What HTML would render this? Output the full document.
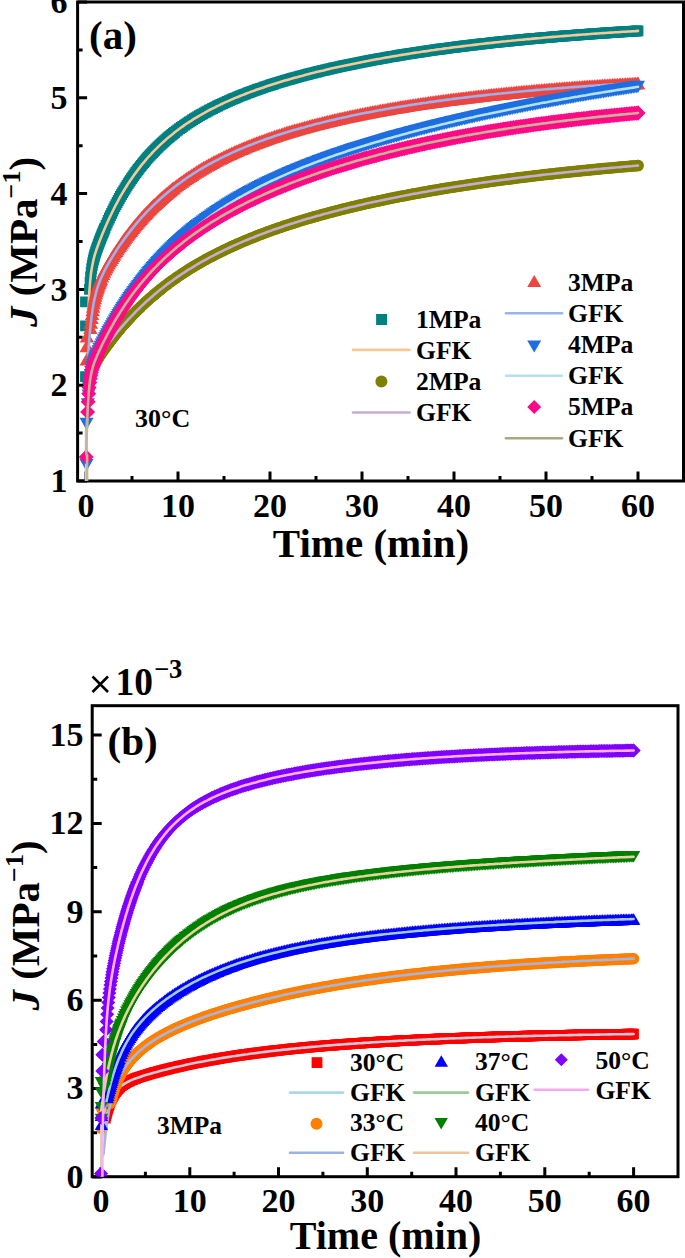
<!DOCTYPE html><html><head><meta charset="utf-8"><style>html,body{margin:0;padding:0;background:#fff;width:685px;height:1258px;overflow:hidden}svg{display:block}text{font-family:"Liberation Serif",serif;font-weight:bold}</style></head><body>
<svg width="685" height="1258" viewBox="0 0 685 1258">
<rect width="685" height="1258" fill="#fff"/>
<defs><clipPath id="ca"><rect x="77.6" y="2" width="605.9" height="479"/></clipPath><clipPath id="cb"><rect x="92.2" y="705.7" width="585.8" height="471"/></clipPath>
<marker id="a0" markerUnits="userSpaceOnUse" overflow="visible" markerWidth="1" markerHeight="1" orient="0"><path fill="#008080" d="M-5.4 -5.4h10.8v10.8h-10.8z"/></marker>
<marker id="a1" markerUnits="userSpaceOnUse" overflow="visible" markerWidth="1" markerHeight="1" orient="0"><path fill="#7f7f00" d="M-5.75 0a5.75 5.75 0 1 0 11.5 0a5.75 5.75 0 1 0 -11.5 0z"/></marker>
<marker id="a2" markerUnits="userSpaceOnUse" overflow="visible" markerWidth="1" markerHeight="1" orient="0"><path fill="#ec4640" d="M0 -6.3L7.2 6.3L-7.2 6.3z"/></marker>
<marker id="a3" markerUnits="userSpaceOnUse" overflow="visible" markerWidth="1" markerHeight="1" orient="0"><path fill="#1e6ee0" d="M0 6.1L7 -6.1L-7 -6.1z"/></marker>
<marker id="a4" markerUnits="userSpaceOnUse" overflow="visible" markerWidth="1" markerHeight="1" orient="0"><path fill="#ff0a86" d="M0 -7.5L7.5 0L0 7.5L-7.5 0z"/></marker>
<marker id="b0" markerUnits="userSpaceOnUse" overflow="visible" markerWidth="1" markerHeight="1" orient="0"><path fill="#ff0000" d="M-5.3 -5.3h10.6v10.6h-10.6z"/></marker>
<marker id="b1" markerUnits="userSpaceOnUse" overflow="visible" markerWidth="1" markerHeight="1" orient="0"><path fill="#ff8000" d="M-5.75 0a5.75 5.75 0 1 0 11.5 0a5.75 5.75 0 1 0 -11.5 0z"/></marker>
<marker id="b2" markerUnits="userSpaceOnUse" overflow="visible" markerWidth="1" markerHeight="1" orient="0"><path fill="#0000ff" d="M0 -5.8L6.7 5.8L-6.7 5.8z"/></marker>
<marker id="b3" markerUnits="userSpaceOnUse" overflow="visible" markerWidth="1" markerHeight="1" orient="0"><path fill="#007f00" d="M0 5.8L6.7 -5.8L-6.7 -5.8z"/></marker>
<marker id="b4" markerUnits="userSpaceOnUse" overflow="visible" markerWidth="1" markerHeight="1" orient="0"><path fill="#8000ff" d="M0 -7L7 0L0 7L-7 0z"/></marker>
</defs>
<rect x="77.6" y="2" width="605.9" height="479" fill="none" stroke="#000" stroke-width="3"/>
<path fill="none" stroke="#000" stroke-width="3" d="M77.6 481h9.5M77.6 385.2h9.5M77.6 289.4h9.5M77.6 193.6h9.5M77.6 97.8h9.5M77.6 2h9.5M77.6 433.1h5M77.6 337.3h5M77.6 241.5h5M77.6 145.7h5M77.6 49.9h5M86 481v-9.5M178 481v-9.5M270 481v-9.5M362 481v-9.5M454 481v-9.5M546 481v-9.5M638 481v-9.5M132 481v-5M224 481v-5M316 481v-5M408 481v-5M500 481v-5M592 481v-5"/>
<rect x="92.2" y="705.7" width="585.8" height="471" fill="none" stroke="#000" stroke-width="3"/>
<path fill="none" stroke="#000" stroke-width="3" d="M92.2 1177h9.5M92.2 1088.6h9.5M92.2 1000.2h9.5M92.2 911.8h9.5M92.2 823.4h9.5M92.2 735h9.5M92.2 1132.8h5M92.2 1044.4h5M92.2 956h5M92.2 867.6h5M92.2 779.2h5M101 1176.7v-9.5M189.8 1176.7v-9.5M278.5 1176.7v-9.5M367.3 1176.7v-9.5M456 1176.7v-9.5M544.8 1176.7v-9.5M633.6 1176.7v-9.5M145.4 1176.7v-5M234.1 1176.7v-5M322.9 1176.7v-5M411.7 1176.7v-5M500.4 1176.7v-5M589.2 1176.7v-5"/>
<g clip-path="url(#ca)">
<polyline fill="none" stroke="none" marker-start="url(#a0)" marker-mid="url(#a0)" marker-end="url(#a0)" points="85.5,376.6 85.5,325.8 85.5,301.9 89.5,289.4 90.1,282.4 90.6,276.8 91.2,272.3 91.7,268.6 92.3,265.4 92.8,262.6 93.4,260.2 93.9,258 94.5,256 95,254.1 95.6,252.3 96.1,250.6 96.7,249 97.3,247.4 97.8,245.9 98.4,244.4 98.9,242.9 99.5,241.4 100,240 100.6,238.6 101.1,237.2 101.7,235.8 102.2,234.4 102.8,233.1 103.3,231.8 103.9,230.4 104.4,229.1 105,227.9 106.1,225.3 107.2,222.8 108.3,220.4 109.4,218 110.5,215.6 111.6,213.3 112.7,211.1 113.8,208.9 114.9,206.7 116,204.6 117.1,202.5 118.2,200.5 119.3,198.5 120.4,196.5 121.5,194.6 122.6,192.7 123.7,190.8 124.9,189 126,187.2 127.1,185.4 128.2,183.7 129.3,182 130.4,180.4 131.5,178.7 132.6,177.1 133.7,175.6 134.8,174 135.9,172.5 137,171 138.1,169.5 139.2,168.1 140.3,166.7 141.4,165.3 142.5,163.9 143.6,162.6 144.7,161.3 145.8,160 146.9,158.7 148,157.4 149.1,156.2 150.2,155 151.3,153.8 152.5,152.6 153.6,151.4 154.7,150.3 155.8,149.2 156.9,148.1 158,147 159.1,145.9 160.2,144.9 161.3,143.8 162.4,142.8 163.5,141.8 164.6,140.8 165.7,139.8 166.8,138.9 167.9,137.9 169,137 170.1,136.1 171.2,135.1 172.3,134.3 173.4,133.4 174.5,132.5 176.2,131.2 177.8,130 179.5,128.7 181.2,127.5 182.8,126.3 184.5,125.2 186.1,124.1 187.8,122.9 189.4,121.8 191.1,120.8 192.7,119.7 194.4,118.7 196.1,117.7 197.7,116.7 199.4,115.7 201,114.7 202.7,113.8 204.3,112.9 206,112 207.7,111.1 209.3,110.2 211,109.3 212.6,108.5 214.3,107.6 215.9,106.8 217.6,106 219.2,105.2 220.9,104.4 222.6,103.6 224.2,102.8 225.9,102.1 227.5,101.3 229.2,100.6 230.8,99.9 232.5,99.2 234.1,98.5 235.8,97.8 237.5,97.1 239.1,96.4 240.8,95.7 242.4,95.1 244.1,94.4 245.7,93.8 247.4,93.1 249.1,92.5 250.7,91.9 252.4,91.3 254,90.7 255.7,90.1 257.3,89.5 259,88.9 260.6,88.3 262.3,87.8 264,87.2 265.6,86.7 267.3,86.1 268.9,85.6 270.6,85 272.2,84.5 273.9,84 275.5,83.4 277.2,82.9 278.9,82.4 280.5,81.9 282.2,81.4 283.8,80.9 285.5,80.4 287.1,79.9 288.8,79.5 290.5,79 292.1,78.5 293.8,78 295.4,77.6 297.1,77.1 298.7,76.7 300.4,76.2 302,75.8 303.7,75.3 305.4,74.9 307,74.5 308.7,74 310.3,73.6 312,73.2 313.6,72.8 315.3,72.4 316.9,72 318.6,71.5 320.3,71.1 321.9,70.7 323.6,70.3 325.2,70 326.9,69.6 328.5,69.2 330.2,68.8 331.9,68.4 333.5,68 335.2,67.7 336.8,67.3 338.5,66.9 340.1,66.6 341.8,66.2 343.4,65.9 345.1,65.5 346.8,65.1 348.4,64.8 350.1,64.5 351.7,64.1 353.4,63.8 355,63.4 356.7,63.1 358.3,62.8 360,62.4 361.7,62.1 363.3,61.8 365,61.5 366.6,61.1 368.3,60.8 369.9,60.5 371.6,60.2 373.3,59.9 374.9,59.6 376.6,59.3 378.2,59 379.9,58.7 381.5,58.4 383.2,58.1 384.8,57.8 386.5,57.5 388.2,57.2 389.8,56.9 391.5,56.6 393.1,56.4 394.8,56.1 396.4,55.8 398.1,55.5 399.7,55.2 401.4,55 403.1,54.7 404.7,54.4 406.4,54.2 408,53.9 409.7,53.6 411.3,53.4 413,53.1 414.7,52.9 416.3,52.6 418,52.4 419.6,52.1 421.3,51.9 422.9,51.6 424.6,51.4 426.2,51.1 427.9,50.9 429.6,50.6 431.2,50.4 432.9,50.2 434.5,49.9 436.2,49.7 437.8,49.5 439.5,49.2 441.1,49 442.8,48.8 444.5,48.6 446.1,48.3 447.8,48.1 449.4,47.9 451.1,47.7 452.7,47.5 454.4,47.3 456.1,47 457.7,46.8 459.4,46.6 461,46.4 462.7,46.2 464.3,46 466,45.8 467.6,45.6 469.3,45.4 471,45.2 472.6,45 474.3,44.8 475.9,44.6 477.6,44.4 479.2,44.2 480.9,44 482.5,43.8 484.2,43.6 485.9,43.5 487.5,43.3 489.2,43.1 490.8,42.9 492.5,42.7 494.1,42.5 495.8,42.4 497.5,42.2 499.1,42 500.8,41.8 502.4,41.7 504.1,41.5 505.7,41.3 507.4,41.1 509,41 510.7,40.8 512.4,40.6 514,40.5 515.7,40.3 517.3,40.2 519,40 520.6,39.8 522.3,39.7 523.9,39.5 525.6,39.4 527.3,39.2 528.9,39 530.6,38.9 532.2,38.7 533.9,38.6 535.5,38.4 537.2,38.3 538.9,38.1 540.5,38 542.2,37.8 543.8,37.7 545.5,37.6 547.1,37.4 548.8,37.3 550.4,37.1 552.1,37 553.8,36.8 555.4,36.7 557.1,36.6 558.7,36.4 560.4,36.3 562,36.2 563.7,36 565.3,35.9 567,35.8 568.7,35.6 570.3,35.5 572,35.4 573.6,35.3 575.3,35.1 576.9,35 578.6,34.9 580.3,34.8 581.9,34.6 583.6,34.5 585.2,34.4 586.9,34.3 588.5,34.1 590.2,34 591.8,33.9 593.5,33.8 595.2,33.7 596.8,33.6 598.5,33.4 600.1,33.3 601.8,33.2 603.4,33.1 605.1,33 606.7,32.9 608.4,32.8 610.1,32.7 611.7,32.6 613.4,32.5 615,32.3 616.7,32.2 618.3,32.1 620,32 621.7,31.9 623.3,31.8 625,31.7 626.6,31.6 628.3,31.5 629.9,31.4 631.6,31.3 633.2,31.2 634.9,31.1 636.6,31 638,30.9"/>
<polyline fill="none" stroke="#fac896" stroke-width="2.6" stroke-linejoin="round" stroke-linecap="round" points="86.2,483 86.2,480.5 86.2,478 86.2,475.5 86.2,473 86.2,470.5 86.2,468 86.2,465.5 86.2,463 86.2,460.5 86.2,458 86.2,455.5 86.2,453 86.2,450.5 86.2,448 86.2,445.5 86.2,443 86.2,440.5 86.2,438 86.2,435.5 86.2,433 86.2,430.5 86.2,428 86.2,425.5 86.2,423 86.2,420.5 86.2,418 86.2,415.5 86.2,413 86.2,410.6 86.2,408.1 86.2,405.6 86.3,403.1 86.3,400.6 86.3,398.1 86.4,395.6 86.4,393.1 86.4,390.6 86.5,388.1 86.5,385.6 86.6,383.1 86.6,380.6 86.6,378.1 86.7,375.6 86.7,373.1 86.8,370.6 86.8,368.1 86.9,365.6 86.9,363.1 87,360.6 87,358.1 87.1,355.6 87.1,353.1 87.2,350.6 87.2,348.2 87.3,345.7 87.4,343.2 87.4,340.7 87.5,338.2 87.6,335.7 87.6,333.2 87.7,330.7 87.8,328.2 87.8,325.7 87.9,323.2 88,320.7 88.1,318.2 88.2,315.7 88.3,313.2 88.4,310.7 88.5,308.2 88.6,305.7 88.7,303.2 88.8,300.7 89,298.2 89.1,295.7 89.3,293.2 89.4,290.7 89.6,288.2 89.8,285.8 90,283.3 90.2,280.8 90.5,278.3 90.7,275.8 91,273.3 91.4,270.9 91.8,268.4 92.2,265.9 92.7,263.5 93.2,261 93.8,258.6 94.4,256.2 95.1,253.8 95.9,251.4 96.7,249 97.5,246.7 98.4,244.3 99.2,242 100.1,239.7 101.1,237.3 102,235 102.9,232.7 103.9,230.4 104.9,228.1 105.9,225.8 106.9,223.5 107.9,221.3 108.9,219 110,216.7 111.1,214.5 112.2,212.2 113.3,210 114.4,207.7 115.5,205.5 116.7,203.3 117.9,201.1 119.1,198.9 120.3,196.7 121.5,194.6 122.8,192.4 124.1,190.3 125.4,188.1 126.7,186 128,183.9 129.4,181.8 130.8,179.7 132.2,177.7 133.6,175.6 135.1,173.6 136.6,171.6 138.1,169.6 139.6,167.6 141.1,165.6 142.7,163.7 144.3,161.8 145.9,159.9 147.5,158 149.2,156.1 150.9,154.3 152.6,152.4 154.3,150.6 156.1,148.9 157.9,147.1 159.6,145.4 161.5,143.6 163.3,142 165.2,140.3 167,138.6 169,137 170.9,135.4 172.8,133.9 174.8,132.3 176.8,130.8 178.8,129.3 180.8,127.8 182.8,126.4 184.8,124.9 186.9,123.5 189,122.1 191.1,120.8 193.2,119.4 195.3,118.1 197.5,116.8 199.6,115.6 201.8,114.3 204,113.1 206.1,111.9 208.3,110.7 210.5,109.5 212.8,108.4 215,107.3 217.2,106.1 219.5,105.1 221.7,104 224,102.9 226.3,101.9 228.6,100.9 230.8,99.9 233.1,98.9 235.4,97.9 237.8,97 240.1,96 242.4,95.1 244.7,94.2 247,93.3 249.4,92.4 251.7,91.5 254.1,90.7 256.4,89.8 258.8,89 261.1,88.2 263.5,87.4 265.9,86.6 268.2,85.8 270.6,85 273,84.2 275.4,83.5 277.8,82.7 280.1,82 282.5,81.3 284.9,80.6 287.3,79.9 289.7,79.2 292.1,78.5 294.5,77.8 296.9,77.2 299.4,76.5 301.8,75.9 304.2,75.2 306.6,74.6 309,73.9 311.4,73.3 313.9,72.7 316.3,72.1 318.7,71.5 321.1,70.9 323.6,70.4 326,69.8 328.4,69.2 330.9,68.6 333.3,68.1 335.7,67.5 338.2,67 340.6,66.5 343.1,65.9 345.5,65.4 347.9,64.9 350.4,64.4 352.8,63.9 355.3,63.4 357.7,62.9 360.2,62.4 362.6,61.9 365.1,61.4 367.5,61 370,60.5 372.5,60 374.9,59.6 377.4,59.1 379.8,58.7 382.3,58.2 384.7,57.8 387.2,57.4 389.7,56.9 392.1,56.5 394.6,56.1 397.1,55.7 399.5,55.3 402,54.9 404.4,54.5 406.9,54.1 409.4,53.7 411.9,53.3 414.3,52.9 416.8,52.5 419.3,52.2 421.7,51.8 424.2,51.4 426.7,51.1 429.1,50.7 431.6,50.3 434.1,50 436.6,49.6 439,49.3 441.5,49 444,48.6 446.5,48.3 448.9,48 451.4,47.6 453.9,47.3 456.4,47 458.9,46.7 461.3,46.4 463.8,46.1 466.3,45.8 468.8,45.5 471.2,45.2 473.7,44.9 476.2,44.6 478.7,44.3 481.2,44 483.7,43.7 486.1,43.4 488.6,43.1 491.1,42.9 493.6,42.6 496.1,42.3 498.6,42.1 501,41.8 503.5,41.5 506,41.3 508.5,41 511,40.8 513.5,40.5 516,40.3 518.4,40 520.9,39.8 523.4,39.6 525.9,39.3 528.4,39.1 530.9,38.9 533.4,38.6 535.8,38.4 538.3,38.2 540.8,38 543.3,37.7 545.8,37.5 548.3,37.3 550.8,37.1 553.3,36.9 555.8,36.7 558.3,36.5 560.7,36.3 563.2,36.1 565.7,35.9 568.2,35.7 570.7,35.5 573.2,35.3 575.7,35.1 578.2,34.9 580.7,34.7 583.2,34.5 585.6,34.4 588.1,34.2 590.6,34 593.1,33.8 595.6,33.6 598.1,33.5 600.6,33.3 603.1,33.1 605.6,33 608.1,32.8 610.6,32.6 613.1,32.5 615.6,32.3 618.1,32.2 620.5,32 623,31.8 625.5,31.7 628,31.5 630.5,31.4 633,31.2 635.5,31.1 638,30.9"/>
<polyline fill="none" stroke="none" marker-start="url(#a1)" marker-mid="url(#a1)" marker-end="url(#a1)" points="94.1,366 95.2,363.7 96.4,361.6 97.5,359.7 98.6,357.9 99.7,356.1 100.8,354.5 101.9,352.8 103,351.2 104.1,349.6 105.2,348.1 106.3,346.6 107.4,345 108.5,343.6 109.6,342.1 110.7,340.6 111.8,339.2 112.9,337.8 114,336.4 115.1,335 116.2,333.6 117.3,332.2 118.4,330.9 119.5,329.6 120.6,328.3 121.7,327 122.8,325.7 124,324.4 125.1,323.2 126.2,321.9 127.3,320.7 128.4,319.5 129.5,318.3 130.6,317.1 131.7,316 132.8,314.8 133.9,313.7 135,312.5 136.1,311.4 137.2,310.3 138.3,309.2 139.4,308.1 140.5,307.1 141.6,306 142.7,305 143.8,303.9 144.9,302.9 146,301.9 147.1,300.9 148.2,299.9 149.3,298.9 150.4,297.9 151.6,297 152.7,296 153.8,295.1 154.9,294.2 156,293.2 157.1,292.3 158.2,291.4 159.3,290.5 160.4,289.6 161.5,288.8 162.6,287.9 164.2,286.6 165.9,285.3 167.6,284.1 169.2,282.8 170.9,281.6 172.5,280.4 174.2,279.3 175.8,278.1 177.5,276.9 179.2,275.8 180.8,274.7 182.5,273.6 184.1,272.5 185.8,271.4 187.4,270.4 189.1,269.3 190.7,268.3 192.4,267.3 194.1,266.3 195.7,265.3 197.4,264.3 199,263.4 200.7,262.4 202.3,261.5 204,260.5 205.6,259.6 207.3,258.7 209,257.8 210.6,256.9 212.3,256.1 213.9,255.2 215.6,254.4 217.2,253.5 218.9,252.7 220.6,251.9 222.2,251.1 223.9,250.3 225.5,249.5 227.2,248.7 228.8,247.9 230.5,247.1 232.1,246.4 233.8,245.6 235.5,244.9 237.1,244.1 238.8,243.4 240.4,242.7 242.1,242 243.7,241.3 245.4,240.6 247,239.9 248.7,239.2 250.4,238.5 252,237.9 253.7,237.2 255.3,236.6 257,235.9 258.6,235.3 260.3,234.6 262,234 263.6,233.4 265.3,232.8 266.9,232.1 268.6,231.5 270.2,230.9 271.9,230.3 273.5,229.8 275.2,229.2 276.9,228.6 278.5,228 280.2,227.5 281.8,226.9 283.5,226.3 285.1,225.8 286.8,225.2 288.4,224.7 290.1,224.2 291.8,223.6 293.4,223.1 295.1,222.6 296.7,222.1 298.4,221.5 300,221 301.7,220.5 303.4,220 305,219.5 306.7,219 308.3,218.5 310,218.1 311.6,217.6 313.3,217.1 314.9,216.6 316.6,216.2 318.3,215.7 319.9,215.2 321.6,214.8 323.2,214.3 324.9,213.9 326.5,213.4 328.2,213 329.8,212.5 331.5,212.1 333.2,211.7 334.8,211.2 336.5,210.8 338.1,210.4 339.8,210 341.4,209.5 343.1,209.1 344.8,208.7 346.4,208.3 348.1,207.9 349.7,207.5 351.4,207.1 353,206.7 354.7,206.3 356.3,205.9 358,205.5 359.7,205.1 361.3,204.8 363,204.4 364.6,204 366.3,203.6 367.9,203.2 369.6,202.9 371.2,202.5 372.9,202.1 374.6,201.8 376.2,201.4 377.9,201.1 379.5,200.7 381.2,200.4 382.8,200 384.5,199.7 386.2,199.3 387.8,199 389.5,198.6 391.1,198.3 392.8,198 394.4,197.6 396.1,197.3 397.7,197 399.4,196.6 401.1,196.3 402.7,196 404.4,195.7 406,195.4 407.7,195 409.3,194.7 411,194.4 412.6,194.1 414.3,193.8 416,193.5 417.6,193.2 419.3,192.9 420.9,192.6 422.6,192.3 424.2,192 425.9,191.7 427.6,191.4 429.2,191.1 430.9,190.8 432.5,190.5 434.2,190.2 435.8,190 437.5,189.7 439.1,189.4 440.8,189.1 442.5,188.8 444.1,188.6 445.8,188.3 447.4,188 449.1,187.8 450.7,187.5 452.4,187.2 454,187 455.7,186.7 457.4,186.4 459,186.2 460.7,185.9 462.3,185.7 464,185.4 465.6,185.2 467.3,184.9 469,184.7 470.6,184.4 472.3,184.2 473.9,183.9 475.6,183.7 477.2,183.4 478.9,183.2 480.5,182.9 482.2,182.7 483.9,182.5 485.5,182.2 487.2,182 488.8,181.8 490.5,181.5 492.1,181.3 493.8,181.1 495.4,180.8 497.1,180.6 498.8,180.4 500.4,180.2 502.1,180 503.7,179.7 505.4,179.5 507,179.3 508.7,179.1 510.4,178.9 512,178.7 513.7,178.4 515.3,178.2 517,178 518.6,177.8 520.3,177.6 521.9,177.4 523.6,177.2 525.3,177 526.9,176.8 528.6,176.6 530.2,176.4 531.9,176.2 533.5,176 535.2,175.8 536.8,175.6 538.5,175.4 540.2,175.2 541.8,175 543.5,174.8 545.1,174.6 546.8,174.4 548.4,174.3 550.1,174.1 551.8,173.9 553.4,173.7 555.1,173.5 556.7,173.3 558.4,173.2 560,173 561.7,172.8 563.3,172.6 565,172.4 566.7,172.3 568.3,172.1 570,171.9 571.6,171.7 573.3,171.6 574.9,171.4 576.6,171.2 578.2,171.1 579.9,170.9 581.6,170.7 583.2,170.6 584.9,170.4 586.5,170.2 588.2,170.1 589.8,169.9 591.5,169.7 593.2,169.6 594.8,169.4 596.5,169.3 598.1,169.1 599.8,168.9 601.4,168.8 603.1,168.6 604.7,168.5 606.4,168.3 608.1,168.2 609.7,168 611.4,167.9 613,167.7 614.7,167.6 616.3,167.4 618,167.3 619.6,167.1 621.3,167 623,166.8 624.6,166.7 626.3,166.6 627.9,166.4 629.6,166.3 631.2,166.1 632.9,166 634.6,165.9 636.2,165.7 637.9,165.6 638,165.6"/>
<polyline fill="none" stroke="#c4acd6" stroke-width="2.6" stroke-linejoin="round" stroke-linecap="round" points="86.2,483 86.2,480.5 86.2,478 86.2,475.5 86.2,473 86.2,470.5 86.2,468 86.2,465.5 86.2,463 86.2,460.5 86.2,458 86.2,455.5 86.1,453.2 86.1,450.7 86.2,448.2 86.3,445.7 86.3,443.2 86.4,440.7 86.5,438.2 86.6,435.7 86.7,433.2 86.8,430.7 86.8,428.3 86.9,425.8 87,423.3 87.2,420.8 87.3,418.3 87.4,415.8 87.5,413.3 87.6,410.8 87.8,408.3 87.9,405.8 88.1,403.3 88.2,400.8 88.4,398.3 88.6,395.8 88.8,393.3 89,390.9 89.3,388.4 89.6,385.9 89.9,383.4 90.3,380.9 90.7,378.5 91.1,376 91.7,373.6 92.3,371.2 93.1,368.8 94,366.5 95,364.2 96.1,362 97.4,359.8 98.7,357.7 100,355.6 101.4,353.5 102.8,351.4 104.3,349.4 105.7,347.4 107.2,345.3 108.7,343.3 110.2,341.3 111.7,339.4 113.2,337.4 114.8,335.4 116.3,333.5 117.9,331.5 119.5,329.6 121.1,327.7 122.7,325.8 124.4,323.9 126,322.1 127.7,320.2 129.4,318.4 131.1,316.6 132.8,314.8 134.6,313 136.3,311.2 138.1,309.4 139.9,307.7 141.7,305.9 143.5,304.2 145.3,302.5 147.2,300.8 149,299.2 150.9,297.5 152.8,295.9 154.7,294.3 156.6,292.7 158.6,291.1 160.5,289.5 162.5,288 164.4,286.5 166.4,284.9 168.4,283.4 170.4,282 172.5,280.5 174.5,279 176.5,277.6 178.6,276.2 180.7,274.8 182.7,273.4 184.8,272.1 186.9,270.7 189,269.4 191.2,268.1 193.3,266.8 195.4,265.5 197.6,264.2 199.8,262.9 201.9,261.7 204.1,260.5 206.3,259.3 208.5,258.1 210.7,256.9 212.9,255.8 215.1,254.6 217.3,253.5 219.6,252.4 221.8,251.3 224.1,250.2 226.3,249.1 228.6,248 230.8,247 233.1,245.9 235.4,244.9 237.7,243.9 240,242.9 242.3,241.9 244.6,240.9 246.9,240 249.2,239 251.5,238.1 253.8,237.2 256.1,236.2 258.4,235.3 260.8,234.4 263.1,233.6 265.5,232.7 267.8,231.8 270.1,231 272.5,230.1 274.9,229.3 277.2,228.5 279.6,227.7 281.9,226.9 284.3,226.1 286.7,225.3 289,224.5 291.4,223.7 293.8,223 296.2,222.2 298.6,221.5 301,220.8 303.3,220 305.7,219.3 308.1,218.6 310.5,217.9 312.9,217.2 315.3,216.5 317.7,215.8 320.1,215.2 322.5,214.5 325,213.8 327.4,213.2 329.8,212.5 332.2,211.9 334.6,211.3 337,210.7 339.4,210 341.9,209.4 344.3,208.8 346.7,208.2 349.1,207.6 351.6,207 354,206.5 356.4,205.9 358.9,205.3 361.3,204.8 363.7,204.2 366.2,203.6 368.6,203.1 371,202.6 373.5,202 375.9,201.5 378.4,201 380.8,200.4 383.2,199.9 385.7,199.4 388.1,198.9 390.6,198.4 393,197.9 395.5,197.4 397.9,196.9 400.4,196.4 402.8,196 405.3,195.5 407.7,195 410.2,194.6 412.6,194.1 415.1,193.6 417.6,193.2 420,192.7 422.5,192.3 424.9,191.9 427.4,191.4 429.8,191 432.3,190.6 434.8,190.1 437.2,189.7 439.7,189.3 442.2,188.9 444.6,188.5 447.1,188.1 449.5,187.7 452,187.3 454.5,186.9 456.9,186.5 459.4,186.1 461.9,185.7 464.3,185.4 466.8,185 469.3,184.6 471.8,184.2 474.2,183.9 476.7,183.5 479.2,183.1 481.6,182.8 484.1,182.4 486.6,182.1 489.1,181.7 491.5,181.4 494,181 496.5,180.7 499,180.4 501.4,180 503.9,179.7 506.4,179.4 508.9,179.1 511.3,178.7 513.8,178.4 516.3,178.1 518.8,177.8 521.2,177.5 523.7,177.2 526.2,176.9 528.7,176.6 531.2,176.3 533.6,176 536.1,175.7 538.6,175.4 541.1,175.1 543.6,174.8 546,174.5 548.5,174.2 551,174 553.5,173.7 556,173.4 558.4,173.1 560.9,172.9 563.4,172.6 565.9,172.3 568.4,172.1 570.9,171.8 573.3,171.6 575.8,171.3 578.3,171.1 580.8,170.8 583.3,170.5 585.8,170.3 588.3,170.1 590.7,169.8 593.2,169.6 595.7,169.3 598.2,169.1 600.7,168.9 603.2,168.6 605.7,168.4 608.1,168.2 610.6,167.9 613.1,167.7 615.6,167.5 618.1,167.3 620.6,167.1 623.1,166.8 625.6,166.6 628,166.4 630.5,166.2 633,166 635.5,165.8 638,165.6"/>
<polyline fill="none" stroke="none" marker-start="url(#a2)" marker-mid="url(#a2)" marker-end="url(#a2)" points="86.7,359.3 86.7,345.9 86.9,336.3 90.4,327.7 90.9,322.5 91.5,317.8 92,313.6 92.6,309.8 93.1,306.4 93.7,303.3 94.2,300.5 94.8,297.9 95.3,295.5 95.9,293.3 96.4,291.3 97,289.4 97.5,287.6 98.1,285.9 98.6,284.3 99.2,282.8 99.8,281.3 100.3,280 100.9,278.6 102,276.1 103.1,273.7 104.2,271.5 105.3,269.3 106.4,267.2 107.5,265.2 108.6,263.3 109.7,261.3 110.8,259.5 111.9,257.6 113,255.8 114.1,254.1 115.2,252.3 116.3,250.6 117.4,249 118.5,247.3 119.6,245.7 120.7,244.1 121.8,242.5 122.9,240.9 124,239.4 125.1,237.9 126.2,236.4 127.4,234.9 128.5,233.4 129.6,232 130.7,230.6 131.8,229.2 132.9,227.8 134,226.4 135.1,225.1 136.2,223.8 137.3,222.5 138.4,221.2 139.5,219.9 140.6,218.7 141.7,217.4 142.8,216.2 143.9,215 145,213.8 146.1,212.6 147.2,211.5 148.3,210.3 149.4,209.2 150.5,208.1 151.6,207 152.7,205.9 153.8,204.8 155,203.7 156.1,202.7 157.2,201.7 158.3,200.6 159.4,199.6 160.5,198.6 161.6,197.6 162.7,196.7 163.8,195.7 164.9,194.8 166,193.8 167.1,192.9 168.2,192 169.3,191.1 170.4,190.2 171.5,189.3 172.6,188.4 173.7,187.5 175.4,186.3 177,185 178.7,183.8 180.3,182.5 182,181.4 183.7,180.2 185.3,179 187,177.9 188.6,176.8 190.3,175.7 191.9,174.6 193.6,173.5 195.2,172.5 196.9,171.4 198.6,170.4 200.2,169.4 201.9,168.4 203.5,167.4 205.2,166.5 206.8,165.5 208.5,164.6 210.2,163.7 211.8,162.8 213.5,161.9 215.1,161 216.8,160.2 218.4,159.3 220.1,158.5 221.7,157.7 223.4,156.8 225.1,156 226.7,155.2 228.4,154.5 230,153.7 231.7,152.9 233.3,152.2 235,151.4 236.6,150.7 238.3,150 240,149.3 241.6,148.6 243.3,147.9 244.9,147.2 246.6,146.5 248.2,145.8 249.9,145.2 251.6,144.5 253.2,143.9 254.9,143.2 256.5,142.6 258.2,142 259.8,141.4 261.5,140.8 263.1,140.2 264.8,139.6 266.5,139 268.1,138.4 269.8,137.8 271.4,137.3 273.1,136.7 274.7,136.1 276.4,135.6 278,135 279.7,134.5 281.4,134 283,133.5 284.7,132.9 286.3,132.4 288,131.9 289.6,131.4 291.3,130.9 293,130.4 294.6,129.9 296.3,129.5 297.9,129 299.6,128.5 301.2,128 302.9,127.6 304.5,127.1 306.2,126.7 307.9,126.2 309.5,125.8 311.2,125.3 312.8,124.9 314.5,124.5 316.1,124 317.8,123.6 319.4,123.2 321.1,122.8 322.8,122.4 324.4,122 326.1,121.5 327.7,121.1 329.4,120.8 331,120.4 332.7,120 334.4,119.6 336,119.2 337.7,118.8 339.3,118.4 341,118.1 342.6,117.7 344.3,117.3 345.9,117 347.6,116.6 349.3,116.3 350.9,115.9 352.6,115.6 354.2,115.2 355.9,114.9 357.5,114.5 359.2,114.2 360.8,113.9 362.5,113.5 364.2,113.2 365.8,112.9 367.5,112.6 369.1,112.2 370.8,111.9 372.4,111.6 374.1,111.3 375.8,111 377.4,110.7 379.1,110.4 380.7,110.1 382.4,109.8 384,109.5 385.7,109.2 387.3,108.9 389,108.6 390.7,108.3 392.3,108 394,107.7 395.6,107.5 397.3,107.2 398.9,106.9 400.6,106.6 402.2,106.4 403.9,106.1 405.6,105.8 407.2,105.6 408.9,105.3 410.5,105 412.2,104.8 413.8,104.5 415.5,104.3 417.2,104 418.8,103.8 420.5,103.5 422.1,103.3 423.8,103 425.4,102.8 427.1,102.5 428.7,102.3 430.4,102.1 432.1,101.8 433.7,101.6 435.4,101.4 437,101.1 438.7,100.9 440.3,100.7 442,100.4 443.6,100.2 445.3,100 447,99.8 448.6,99.6 450.3,99.4 451.9,99.1 453.6,98.9 455.2,98.7 456.9,98.5 458.6,98.3 460.2,98.1 461.9,97.9 463.5,97.7 465.2,97.5 466.8,97.3 468.5,97.1 470.1,96.9 471.8,96.7 473.5,96.5 475.1,96.3 476.8,96.1 478.4,95.9 480.1,95.7 481.7,95.5 483.4,95.4 485,95.2 486.7,95 488.4,94.8 490,94.6 491.7,94.4 493.3,94.3 495,94.1 496.6,93.9 498.3,93.7 500,93.6 501.6,93.4 503.3,93.2 504.9,93.1 506.6,92.9 508.2,92.7 509.9,92.6 511.5,92.4 513.2,92.2 514.9,92.1 516.5,91.9 518.2,91.8 519.8,91.6 521.5,91.4 523.1,91.3 524.8,91.1 526.4,91 528.1,90.8 529.8,90.7 531.4,90.5 533.1,90.4 534.7,90.2 536.4,90.1 538,89.9 539.7,89.8 541.4,89.6 543,89.5 544.7,89.4 546.3,89.2 548,89.1 549.6,88.9 551.3,88.8 552.9,88.7 554.6,88.5 556.3,88.4 557.9,88.3 559.6,88.1 561.2,88 562.9,87.9 564.5,87.7 566.2,87.6 567.8,87.5 569.5,87.4 571.2,87.2 572.8,87.1 574.5,87 576.1,86.9 577.8,86.7 579.4,86.6 581.1,86.5 582.8,86.4 584.4,86.3 586.1,86.1 587.7,86 589.4,85.9 591,85.8 592.7,85.7 594.3,85.6 596,85.5 597.7,85.3 599.3,85.2 601,85.1 602.6,85 604.3,84.9 605.9,84.8 607.6,84.7 609.2,84.6 610.9,84.5 612.6,84.4 614.2,84.3 615.9,84.2 617.5,84.1 619.2,84 620.8,83.9 622.5,83.8 624.2,83.7 625.8,83.6 627.5,83.5 629.1,83.4 630.8,83.3 632.4,83.2 634.1,83.1 635.7,83 637.4,82.9 638,82.9"/>
<polyline fill="none" stroke="#9cb2ee" stroke-width="2.6" stroke-linejoin="round" stroke-linecap="round" points="86.2,483 86.2,480.5 86.2,478 86.2,475.5 86.2,473 86.2,470.5 86.2,468 86.2,465.5 86.2,463 86.2,460.5 86.2,458 86.2,455.5 86.2,453 86.2,450.5 86.2,448 86.2,445.5 86.2,443 86.2,440.5 86.2,437.9 86.2,435.4 86.2,432.9 86.2,430.4 86.2,427.9 86.2,425.4 86.2,422.9 86.2,420.4 86.2,417.9 86.2,415.4 86.2,412.9 86.2,410.4 86.2,407.9 86.2,405.4 86.2,402.9 86.2,400.4 86.2,397.9 86.2,395.4 86.2,392.9 86.2,390.4 86.2,387.9 86.7,385.8 86.8,383.3 86.9,380.8 87,378.3 87.1,375.8 87.2,373.3 87.4,370.8 87.5,368.3 87.6,365.8 87.7,363.3 87.9,360.8 88,358.3 88.2,355.8 88.3,353.3 88.5,350.8 88.7,348.3 88.8,345.8 89,343.3 89.2,340.8 89.4,338.3 89.6,335.8 89.8,333.3 90.1,330.8 90.3,328.3 90.6,325.8 90.8,323.4 91.1,320.9 91.4,318.4 91.7,315.9 92.1,313.4 92.4,310.9 92.8,308.5 93.2,306 93.6,303.5 94.1,301.1 94.6,298.6 95.2,296.2 95.8,293.8 96.4,291.3 97.1,288.9 97.9,286.6 98.7,284.2 99.6,281.8 100.5,279.5 101.5,277.2 102.5,274.9 103.6,272.7 104.7,270.4 105.9,268.2 107,266 108.3,263.8 109.5,261.7 110.8,259.5 112.1,257.4 113.4,255.2 114.7,253.1 116.1,251 117.4,248.9 118.8,246.8 120.2,244.8 121.7,242.7 123.1,240.7 124.6,238.6 126.1,236.6 127.6,234.6 129.1,232.6 130.6,230.6 132.2,228.7 133.7,226.7 135.3,224.8 136.9,222.9 138.6,221 140.2,219.1 141.9,217.2 143.6,215.4 145.3,213.5 147,211.7 148.7,209.9 150.5,208.1 152.3,206.4 154,204.6 155.9,202.9 157.7,201.2 159.5,199.5 161.4,197.8 163.3,196.2 165.2,194.5 167.1,192.9 169,191.3 170.9,189.7 172.9,188.2 174.9,186.6 176.9,185.1 178.9,183.6 180.9,182.2 182.9,180.7 185,179.3 187,177.8 189.1,176.4 191.2,175.1 193.3,173.7 195.4,172.4 197.5,171 199.7,169.7 201.8,168.5 204,167.2 206.2,165.9 208.3,164.7 210.5,163.5 212.7,162.3 214.9,161.1 217.2,160 219.4,158.8 221.6,157.7 223.9,156.6 226.1,155.5 228.4,154.5 230.7,153.4 232.9,152.4 235.2,151.3 237.5,150.3 239.8,149.3 242.1,148.4 244.4,147.4 246.7,146.4 249,145.5 251.4,144.6 253.7,143.7 256,142.8 258.4,141.9 260.7,141 263.1,140.2 265.4,139.3 267.8,138.5 270.2,137.7 272.5,136.9 274.9,136.1 277.3,135.3 279.7,134.5 282.1,133.8 284.4,133 286.8,132.3 289.2,131.5 291.6,130.8 294,130.1 296.4,129.4 298.8,128.7 301.2,128 303.7,127.4 306.1,126.7 308.5,126 310.9,125.4 313.3,124.8 315.7,124.1 318.2,123.5 320.6,122.9 323,122.3 325.5,121.7 327.9,121.1 330.3,120.5 332.8,120 335.2,119.4 337.6,118.8 340.1,118.3 342.5,117.7 345,117.2 347.4,116.7 349.9,116.1 352.3,115.6 354.8,115.1 357.2,114.6 359.7,114.1 362.1,113.6 364.6,113.1 367,112.6 369.5,112.2 371.9,111.7 374.4,111.2 376.9,110.8 379.3,110.3 381.8,109.9 384.2,109.4 386.7,109 389.2,108.6 391.6,108.1 394.1,107.7 396.6,107.3 399,106.9 401.5,106.5 404,106.1 406.5,105.7 408.9,105.3 411.4,104.9 413.9,104.5 416.3,104.1 418.8,103.8 421.3,103.4 423.8,103 426.2,102.7 428.7,102.3 431.2,101.9 433.7,101.6 436.2,101.2 438.6,100.9 441.1,100.6 443.6,100.2 446.1,99.9 448.6,99.6 451,99.3 453.5,98.9 456,98.6 458.5,98.3 461,98 463.5,97.7 465.9,97.4 468.4,97.1 470.9,96.8 473.4,96.5 475.9,96.2 478.4,95.9 480.9,95.6 483.3,95.4 485.8,95.1 488.3,94.8 490.8,94.5 493.3,94.3 495.8,94 498.3,93.7 500.8,93.5 503.3,93.2 505.7,93 508.2,92.7 510.7,92.5 513.2,92.2 515.7,92 518.2,91.8 520.7,91.5 523.2,91.3 525.7,91 528.2,90.8 530.7,90.6 533.2,90.4 535.6,90.1 538.1,89.9 540.6,89.7 543.1,89.5 545.6,89.3 548.1,89.1 550.6,88.9 553.1,88.7 555.6,88.5 558.1,88.3 560.6,88.1 563.1,87.9 565.6,87.7 568.1,87.5 570.6,87.3 573.1,87.1 575.6,86.9 578.1,86.7 580.6,86.5 583,86.4 585.5,86.2 588,86 590.5,85.8 593,85.7 595.5,85.5 598,85.3 600.5,85.2 603,85 605.5,84.8 608,84.7 610.5,84.5 613,84.3 615.5,84.2 618,84 620.5,83.9 623,83.7 625.5,83.6 628,83.4 630.5,83.3 633,83.1 635.5,83 638,82.9"/>
<polyline fill="none" stroke="none" marker-start="url(#a3)" marker-mid="url(#a3)" marker-end="url(#a3)" points="86.5,465.2 86.5,423.8 87.9,404.4 88.5,395.7 89,388.8 89.6,383.3 90.1,378.9 90.7,375.2 91.2,372.1 91.8,369.5 92.3,367.2 92.9,365.2 93.4,363.4 94,361.8 94.5,360.3 95.1,358.9 95.6,357.5 96.2,356.2 97.3,353.7 98.4,351.4 99.5,349.1 100.6,346.9 101.7,344.7 102.8,342.5 103.9,340.4 105,338.3 106.1,336.3 107.2,334.3 108.3,332.2 109.4,330.3 110.5,328.3 111.7,326.4 112.8,324.4 113.9,322.6 115,320.7 116.1,318.8 117.2,317 118.3,315.2 119.4,313.4 120.5,311.7 121.6,309.9 122.7,308.2 123.8,306.5 124.9,304.8 126,303.1 127.1,301.5 128.2,299.9 129.3,298.2 130.4,296.7 131.5,295.1 132.6,293.5 133.7,292 134.8,290.5 135.9,289 137,287.5 138.1,286 139.3,284.5 140.4,283.1 141.5,281.7 142.6,280.3 143.7,278.9 144.8,277.5 145.9,276.1 147,274.8 148.1,273.4 149.2,272.1 150.3,270.8 151.4,269.5 152.5,268.2 153.6,267 154.7,265.7 155.8,264.5 156.9,263.2 158,262 159.1,260.8 160.2,259.6 161.3,258.5 162.4,257.3 163.5,256.1 164.6,255 165.7,253.9 166.9,252.7 168,251.6 169.1,250.5 170.2,249.4 171.3,248.4 172.4,247.3 173.5,246.2 174.6,245.2 175.7,244.2 176.8,243.1 177.9,242.1 179,241.1 180.1,240.1 181.2,239.1 182.3,238.2 183.4,237.2 184.5,236.2 185.6,235.3 186.7,234.3 187.8,233.4 188.9,232.5 190,231.6 191.1,230.6 192.2,229.7 193.3,228.9 194.5,228 195.6,227.1 196.7,226.2 197.8,225.4 199.4,224.1 201.1,222.8 202.7,221.6 204.4,220.4 206,219.1 207.7,217.9 209.4,216.8 211,215.6 212.7,214.4 214.3,213.3 216,212.2 217.6,211.1 219.3,210 220.9,208.9 222.6,207.8 224.3,206.8 225.9,205.7 227.6,204.7 229.2,203.6 230.9,202.6 232.5,201.6 234.2,200.6 235.9,199.7 237.5,198.7 239.2,197.7 240.8,196.8 242.5,195.9 244.1,194.9 245.8,194 247.4,193.1 249.1,192.2 250.8,191.3 252.4,190.5 254.1,189.6 255.7,188.7 257.4,187.9 259,187 260.7,186.2 262.3,185.4 264,184.5 265.7,183.7 267.3,182.9 269,182.1 270.6,181.3 272.3,180.6 273.9,179.8 275.6,179 277.3,178.3 278.9,177.5 280.6,176.8 282.2,176 283.9,175.3 285.5,174.6 287.2,173.8 288.8,173.1 290.5,172.4 292.2,171.7 293.8,171 295.5,170.3 297.1,169.6 298.8,169 300.4,168.3 302.1,167.6 303.7,167 305.4,166.3 307.1,165.7 308.7,165 310.4,164.4 312,163.7 313.7,163.1 315.3,162.5 317,161.8 318.7,161.2 320.3,160.6 322,160 323.6,159.4 325.3,158.8 326.9,158.2 328.6,157.6 330.2,157 331.9,156.4 333.6,155.8 335.2,155.3 336.9,154.7 338.5,154.1 340.2,153.6 341.8,153 343.5,152.4 345.1,151.9 346.8,151.3 348.5,150.8 350.1,150.2 351.8,149.7 353.4,149.2 355.1,148.6 356.7,148.1 358.4,147.6 360.1,147 361.7,146.5 363.4,146 365,145.5 366.7,145 368.3,144.5 370,144 371.6,143.5 373.3,143 375,142.5 376.6,142 378.3,141.5 379.9,141 381.6,140.5 383.2,140 384.9,139.5 386.5,139.1 388.2,138.6 389.9,138.1 391.5,137.7 393.2,137.2 394.8,136.7 396.5,136.3 398.1,135.8 399.8,135.3 401.5,134.9 403.1,134.4 404.8,134 406.4,133.5 408.1,133.1 409.7,132.6 411.4,132.2 413,131.8 414.7,131.3 416.4,130.9 418,130.5 419.7,130 421.3,129.6 423,129.2 424.6,128.8 426.3,128.3 427.9,127.9 429.6,127.5 431.3,127.1 432.9,126.7 434.6,126.3 436.2,125.8 437.9,125.4 439.5,125 441.2,124.6 442.9,124.2 444.5,123.8 446.2,123.4 447.8,123 449.5,122.6 451.1,122.2 452.8,121.8 454.4,121.5 456.1,121.1 457.8,120.7 459.4,120.3 461.1,119.9 462.7,119.5 464.4,119.2 466,118.8 467.7,118.4 469.3,118 471,117.7 472.7,117.3 474.3,116.9 476,116.5 477.6,116.2 479.3,115.8 480.9,115.5 482.6,115.1 484.3,114.7 485.9,114.4 487.6,114 489.2,113.7 490.9,113.3 492.5,113 494.2,112.6 495.8,112.3 497.5,111.9 499.2,111.6 500.8,111.2 502.5,110.9 504.1,110.5 505.8,110.2 507.4,109.8 509.1,109.5 510.7,109.2 512.4,108.8 514.1,108.5 515.7,108.2 517.4,107.8 519,107.5 520.7,107.2 522.3,106.8 524,106.5 525.7,106.2 527.3,105.9 529,105.5 530.6,105.2 532.3,104.9 533.9,104.6 535.6,104.3 537.2,104 538.9,103.6 540.6,103.3 542.2,103 543.9,102.7 545.5,102.4 547.2,102.1 548.8,101.8 550.5,101.5 552.1,101.2 553.8,100.9 555.5,100.6 557.1,100.3 558.8,100 560.4,99.7 562.1,99.4 563.7,99.1 565.4,98.8 567.1,98.5 568.7,98.2 570.4,97.9 572,97.6 573.7,97.3 575.3,97 577,96.7 578.6,96.4 580.3,96.2 582,95.9 583.6,95.6 585.3,95.3 586.9,95 588.6,94.7 590.2,94.5 591.9,94.2 593.5,93.9 595.2,93.6 596.9,93.4 598.5,93.1 600.2,92.8 601.8,92.5 603.5,92.3 605.1,92 606.8,91.7 608.5,91.5 610.1,91.2 611.8,90.9 613.4,90.7 615.1,90.4 616.7,90.1 618.4,89.9 620,89.6 621.7,89.4 623.4,89.1 625,88.8 626.7,88.6 628.3,88.3 630,88.1 631.6,87.8 633.3,87.6 634.9,87.3 636.6,87.1 638,86.8"/>
<polyline fill="none" stroke="#b2e2f2" stroke-width="2.6" stroke-linejoin="round" stroke-linecap="round" points="86.2,483 86.2,480.5 86.2,478 86.2,475.5 86.2,473 86.2,470.5 86.2,468 86.2,465.5 86.2,463 86.2,460.5 86.2,458 86.2,455.5 86.2,453 86.2,450.5 86.3,448 86.3,445.5 86.4,443 86.5,440.5 86.5,438 86.6,435.5 86.7,433 86.8,430.5 86.9,428 87,425.5 87,423 87.1,420.5 87.3,418 87.4,415.5 87.5,413 87.6,410.5 87.7,408 87.9,405.5 88,403 88.1,400.5 88.3,398 88.5,395.5 88.7,393 88.9,390.5 89.1,388 89.3,385.5 89.6,383 89.9,380.5 90.2,378.1 90.6,375.6 91,373.1 91.5,370.7 92.1,368.2 92.7,365.8 93.4,363.4 94.3,361 95.2,358.7 96.1,356.4 97.1,354.1 98.2,351.8 99.3,349.6 100.4,347.3 101.5,345.1 102.6,342.9 103.8,340.7 105,338.4 106.2,336.2 107.4,334 108.6,331.9 109.8,329.7 111,327.5 112.3,325.3 113.5,323.2 114.8,321 116.1,318.8 117.4,316.7 118.7,314.6 120,312.4 121.3,310.3 122.7,308.2 124,306.1 125.4,304 126.8,301.9 128.2,299.9 129.6,297.8 131.1,295.8 132.5,293.7 134,291.7 135.4,289.7 136.9,287.6 138.4,285.6 139.9,283.6 141.5,281.7 143,279.7 144.6,277.7 146.1,275.8 147.7,273.9 149.3,271.9 151,270 152.6,268.1 154.2,266.3 155.9,264.4 157.6,262.5 159.3,260.7 161,258.8 162.7,257 164.4,255.2 166.2,253.4 167.9,251.7 169.7,249.9 171.5,248.1 173.3,246.4 175.1,244.7 177,243 178.8,241.3 180.7,239.6 182.5,238 184.4,236.3 186.3,234.7 188.2,233.1 190.2,231.5 192.1,229.9 194,228.3 196,226.7 198,225.2 200,223.7 202,222.2 204,220.7 206,219.2 208,217.7 210,216.3 212.1,214.8 214.2,213.4 216.2,212 218.3,210.6 220.4,209.2 222.5,207.9 224.6,206.5 226.7,205.2 228.9,203.9 231,202.6 233.1,201.3 235.3,200 237.4,198.7 239.6,197.5 241.8,196.3 244,195 246.2,193.8 248.4,192.6 250.6,191.4 252.8,190.3 255,189.1 257.2,188 259.4,186.8 261.7,185.7 263.9,184.6 266.2,183.5 268.4,182.4 270.7,181.3 273,180.3 275.2,179.2 277.5,178.2 279.8,177.1 282.1,176.1 284.4,175.1 286.6,174.1 288.9,173.1 291.2,172.1 293.5,171.1 295.9,170.2 298.2,169.2 300.5,168.3 302.8,167.3 305.1,166.4 307.5,165.5 309.8,164.6 312.1,163.7 314.5,162.8 316.8,161.9 319.2,161 321.5,160.2 323.9,159.3 326.2,158.4 328.6,157.6 330.9,156.8 333.3,155.9 335.6,155.1 338,154.3 340.4,153.5 342.8,152.7 345.1,151.9 347.5,151.1 349.9,150.3 352.3,149.5 354.6,148.8 357,148 359.4,147.2 361.8,146.5 364.2,145.8 366.6,145 369,144.3 371.4,143.5 373.8,142.8 376.2,142.1 378.6,141.4 381,140.7 383.4,140 385.8,139.3 388.2,138.6 390.6,137.9 393,137.2 395.4,136.6 397.8,135.9 400.2,135.2 402.6,134.6 405.1,133.9 407.5,133.3 409.9,132.6 412.3,132 414.7,131.3 417.1,130.7 419.6,130.1 422,129.4 424.4,128.8 426.8,128.2 429.3,127.6 431.7,127 434.1,126.4 436.6,125.8 439,125.2 441.4,124.6 443.8,124 446.3,123.4 448.7,122.8 451.2,122.2 453.6,121.7 456,121.1 458.5,120.5 460.9,120 463.3,119.4 465.8,118.8 468.2,118.3 470.7,117.7 473.1,117.2 475.5,116.6 478,116.1 480.4,115.6 482.9,115 485.3,114.5 487.8,114 490.2,113.4 492.7,112.9 495.1,112.4 497.6,111.9 500,111.4 502.5,110.9 504.9,110.4 507.4,109.9 509.8,109.4 512.3,108.9 514.7,108.4 517.2,107.9 519.6,107.4 522.1,106.9 524.5,106.4 527,105.9 529.5,105.5 531.9,105 534.4,104.5 536.8,104 539.3,103.6 541.8,103.1 544.2,102.6 546.7,102.2 549.1,101.7 551.6,101.3 554.1,100.8 556.5,100.4 559,99.9 561.4,99.5 563.9,99 566.4,98.6 568.8,98.2 571.3,97.7 573.8,97.3 576.2,96.9 578.7,96.4 581.2,96 583.6,95.6 586.1,95.2 588.6,94.7 591,94.3 593.5,93.9 596,93.5 598.4,93.1 600.9,92.7 603.4,92.3 605.9,91.9 608.3,91.5 610.8,91.1 613.3,90.7 615.7,90.3 618.2,89.9 620.7,89.5 623.2,89.1 625.6,88.7 628.1,88.4 630.6,88 633.1,87.6 635.5,87.2 638,86.8"/>
<polyline fill="none" stroke="none" marker-start="url(#a4)" marker-mid="url(#a4)" marker-end="url(#a4)" points="86.2,457.1 87.6,412 88.1,401.7 88.7,393.7 89.2,387.5 89.8,382.5 90.3,378.6 90.9,375.3 91.4,372.5 92,370.1 92.5,368.1 93.1,366.2 93.6,364.5 94.2,362.9 94.7,361.4 95.3,360 95.8,358.6 96.4,357.3 96.9,356 98.1,353.5 99.2,351 100.3,348.7 101.4,346.3 102.5,344.1 103.6,341.8 104.7,339.6 105.8,337.5 106.9,335.4 108,333.3 109.1,331.2 110.2,329.2 111.3,327.2 112.4,325.2 113.5,323.3 114.6,321.4 115.7,319.5 116.8,317.7 117.9,315.9 119,314.1 120.1,312.3 121.2,310.6 122.3,308.9 123.4,307.2 124.5,305.5 125.7,303.9 126.8,302.3 127.9,300.7 129,299.1 130.1,297.6 131.2,296.1 132.3,294.5 133.4,293.1 134.5,291.6 135.6,290.2 136.7,288.7 137.8,287.3 138.9,286 140,284.6 141.1,283.2 142.2,281.9 143.3,280.6 144.4,279.3 145.5,278 146.6,276.7 147.7,275.5 148.8,274.3 149.9,273 151,271.8 152.1,270.7 153.3,269.5 154.4,268.3 155.5,267.2 156.6,266 157.7,264.9 158.8,263.8 159.9,262.7 161,261.6 162.1,260.6 163.2,259.5 164.3,258.5 165.4,257.4 166.5,256.4 167.6,255.4 168.7,254.4 169.8,253.4 170.9,252.4 172,251.5 173.1,250.5 174.2,249.6 175.3,248.6 176.4,247.7 177.5,246.8 178.6,245.9 179.7,245 180.9,244.1 182,243.2 183.1,242.3 184.2,241.4 185.8,240.1 187.5,238.9 189.1,237.6 190.8,236.4 192.4,235.2 194.1,234 195.8,232.8 197.4,231.6 199.1,230.5 200.7,229.4 202.4,228.2 204,227.1 205.7,226 207.3,225 209,223.9 210.7,222.8 212.3,221.8 214,220.8 215.6,219.8 217.3,218.8 218.9,217.8 220.6,216.8 222.3,215.8 223.9,214.8 225.6,213.9 227.2,213 228.9,212 230.5,211.1 232.2,210.2 233.8,209.3 235.5,208.4 237.2,207.5 238.8,206.7 240.5,205.8 242.1,205 243.8,204.1 245.4,203.3 247.1,202.4 248.7,201.6 250.4,200.8 252.1,200 253.7,199.2 255.4,198.4 257,197.6 258.7,196.9 260.3,196.1 262,195.3 263.7,194.6 265.3,193.8 267,193.1 268.6,192.4 270.3,191.6 271.9,190.9 273.6,190.2 275.2,189.5 276.9,188.8 278.6,188.1 280.2,187.4 281.9,186.7 283.5,186 285.2,185.4 286.8,184.7 288.5,184 290.1,183.4 291.8,182.7 293.5,182.1 295.1,181.5 296.8,180.8 298.4,180.2 300.1,179.6 301.7,178.9 303.4,178.3 305.1,177.7 306.7,177.1 308.4,176.5 310,175.9 311.7,175.3 313.3,174.7 315,174.2 316.6,173.6 318.3,173 320,172.4 321.6,171.9 323.3,171.3 324.9,170.8 326.6,170.2 328.2,169.7 329.9,169.1 331.5,168.6 333.2,168 334.9,167.5 336.5,167 338.2,166.5 339.8,165.9 341.5,165.4 343.1,164.9 344.8,164.4 346.5,163.9 348.1,163.4 349.8,162.9 351.4,162.4 353.1,161.9 354.7,161.4 356.4,161 358,160.5 359.7,160 361.4,159.5 363,159.1 364.7,158.6 366.3,158.1 368,157.7 369.6,157.2 371.3,156.8 372.9,156.3 374.6,155.9 376.3,155.4 377.9,155 379.6,154.6 381.2,154.1 382.9,153.7 384.5,153.3 386.2,152.8 387.9,152.4 389.5,152 391.2,151.6 392.8,151.2 394.5,150.8 396.1,150.4 397.8,150 399.4,149.6 401.1,149.2 402.8,148.8 404.4,148.4 406.1,148 407.7,147.6 409.4,147.2 411,146.8 412.7,146.4 414.3,146.1 416,145.7 417.7,145.3 419.3,145 421,144.6 422.6,144.2 424.3,143.9 425.9,143.5 427.6,143.1 429.3,142.8 430.9,142.4 432.6,142.1 434.2,141.7 435.9,141.4 437.5,141.1 439.2,140.7 440.8,140.4 442.5,140.1 444.2,139.7 445.8,139.4 447.5,139.1 449.1,138.7 450.8,138.4 452.4,138.1 454.1,137.8 455.7,137.5 457.4,137.1 459.1,136.8 460.7,136.5 462.4,136.2 464,135.9 465.7,135.6 467.3,135.3 469,135 470.7,134.7 472.3,134.4 474,134.1 475.6,133.8 477.3,133.5 478.9,133.2 480.6,133 482.2,132.7 483.9,132.4 485.6,132.1 487.2,131.8 488.9,131.6 490.5,131.3 492.2,131 493.8,130.7 495.5,130.5 497.1,130.2 498.8,129.9 500.5,129.7 502.1,129.4 503.8,129.1 505.4,128.9 507.1,128.6 508.7,128.4 510.4,128.1 512.1,127.9 513.7,127.6 515.4,127.4 517,127.1 518.7,126.9 520.3,126.6 522,126.4 523.6,126.2 525.3,125.9 527,125.7 528.6,125.5 530.3,125.2 531.9,125 533.6,124.8 535.2,124.5 536.9,124.3 538.5,124.1 540.2,123.9 541.9,123.6 543.5,123.4 545.2,123.2 546.8,123 548.5,122.8 550.1,122.5 551.8,122.3 553.5,122.1 555.1,121.9 556.8,121.7 558.4,121.5 560.1,121.3 561.7,121.1 563.4,120.9 565,120.7 566.7,120.5 568.4,120.3 570,120.1 571.7,119.9 573.3,119.7 575,119.5 576.6,119.3 578.3,119.1 579.9,118.9 581.6,118.7 583.3,118.5 584.9,118.4 586.6,118.2 588.2,118 589.9,117.8 591.5,117.6 593.2,117.4 594.9,117.3 596.5,117.1 598.2,116.9 599.8,116.7 601.5,116.6 603.1,116.4 604.8,116.2 606.4,116.1 608.1,115.9 609.8,115.7 611.4,115.5 613.1,115.4 614.7,115.2 616.4,115.1 618,114.9 619.7,114.7 621.3,114.6 623,114.4 624.7,114.3 626.3,114.1 628,113.9 629.6,113.8 631.3,113.6 632.9,113.5 634.6,113.3 636.3,113.2 637.9,113 638,113"/>
<polyline fill="none" stroke="#c4b49a" stroke-width="2.6" stroke-linejoin="round" stroke-linecap="round" points="87.1,483 87.1,480.5 87.1,478 87.1,475.5 87.1,473 87.1,470.5 87.1,468 87.1,465.5 87.1,463 87.1,460.5 87.1,458 87.1,455.5 86.2,454 86.3,451.5 86.3,449 86.4,446.5 86.4,444 86.5,441.5 86.6,439 86.7,436.5 86.7,434 86.8,431.5 86.9,429 87,426.5 87.1,424 87.2,421.5 87.3,419 87.4,416.5 87.5,414 87.6,411.5 87.7,409 87.8,406.5 88,404 88.1,401.5 88.3,399 88.5,396.6 88.6,394.1 88.8,391.6 89.1,389.1 89.3,386.6 89.6,384.1 89.9,381.6 90.2,379.2 90.6,376.7 91.1,374.2 91.6,371.8 92.2,369.4 92.9,367 93.6,364.6 94.4,362.2 95.3,359.9 96.3,357.6 97.2,355.3 98.3,353 99.3,350.7 100.4,348.5 101.4,346.2 102.5,344 103.6,341.7 104.8,339.5 105.9,337.3 107.1,335 108.2,332.8 109.4,330.6 110.6,328.5 111.8,326.3 113.1,324.1 114.3,321.9 115.6,319.8 116.9,317.6 118.2,315.5 119.5,313.4 120.8,311.3 122.2,309.2 123.5,307.1 124.9,305 126.3,302.9 127.7,300.9 129.2,298.8 130.6,296.8 132.1,294.8 133.6,292.8 135.1,290.8 136.6,288.8 138.2,286.9 139.7,284.9 141.3,283 142.9,281.1 144.5,279.2 146.2,277.3 147.8,275.4 149.5,273.5 151.2,271.7 152.9,269.9 154.6,268.1 156.4,266.3 158.1,264.5 159.9,262.7 161.7,261 163.5,259.2 165.3,257.5 167.1,255.8 169,254.2 170.8,252.5 172.7,250.9 174.6,249.2 176.5,247.6 178.4,246 180.4,244.4 182.3,242.9 184.3,241.3 186.3,239.8 188.3,238.3 190.3,236.8 192.3,235.3 194.3,233.9 196.3,232.4 198.4,231 200.4,229.6 202.5,228.2 204.6,226.8 206.7,225.4 208.8,224 210.9,222.7 213,221.4 215.1,220.1 217.3,218.8 219.4,217.5 221.6,216.2 223.7,215 225.9,213.7 228.1,212.5 230.2,211.3 232.4,210.1 234.6,208.9 236.8,207.7 239,206.5 241.3,205.4 243.5,204.3 245.7,203.1 247.9,202 250.2,200.9 252.4,199.8 254.7,198.7 256.9,197.7 259.2,196.6 261.5,195.6 263.8,194.5 266,193.5 268.3,192.5 270.6,191.5 272.9,190.5 275.2,189.5 277.5,188.5 279.8,187.6 282.1,186.6 284.4,185.7 286.7,184.7 289.1,183.8 291.4,182.9 293.7,182 296,181.1 298.4,180.2 300.7,179.3 303,178.5 305.4,177.6 307.7,176.7 310.1,175.9 312.4,175.1 314.8,174.2 317.2,173.4 319.5,172.6 321.9,171.8 324.3,171 326.6,170.2 329,169.4 331.4,168.6 333.7,167.9 336.1,167.1 338.5,166.4 340.9,165.6 343.3,164.9 345.7,164.1 348.1,163.4 350.5,162.7 352.8,162 355.2,161.3 357.6,160.6 360,159.9 362.4,159.2 364.9,158.5 367.3,157.9 369.7,157.2 372.1,156.6 374.5,155.9 376.9,155.3 379.3,154.6 381.7,154 384.2,153.4 386.6,152.7 389,152.1 391.4,151.5 393.8,150.9 396.3,150.3 398.7,149.7 401.1,149.1 403.6,148.6 406,148 408.4,147.4 410.9,146.9 413.3,146.3 415.7,145.8 418.2,145.2 420.6,144.7 423,144.1 425.5,143.6 427.9,143.1 430.4,142.6 432.8,142 435.3,141.5 437.7,141 440.2,140.5 442.6,140 445.1,139.5 447.5,139.1 450,138.6 452.4,138.1 454.9,137.6 457.3,137.2 459.8,136.7 462.2,136.2 464.7,135.8 467.1,135.3 469.6,134.9 472.1,134.4 474.5,134 477,133.6 479.4,133.2 481.9,132.7 484.4,132.3 486.8,131.9 489.3,131.5 491.8,131.1 494.2,130.7 496.7,130.3 499.2,129.9 501.6,129.5 504.1,129.1 506.6,128.7 509,128.3 511.5,128 514,127.6 516.4,127.2 518.9,126.9 521.4,126.5 523.9,126.1 526.3,125.8 528.8,125.4 531.3,125.1 533.7,124.7 536.2,124.4 538.7,124.1 541.2,123.7 543.6,123.4 546.1,123.1 548.6,122.7 551.1,122.4 553.6,122.1 556,121.8 558.5,121.5 561,121.2 563.5,120.9 566,120.6 568.4,120.3 570.9,120 573.4,119.7 575.9,119.4 578.4,119.1 580.8,118.8 583.3,118.5 585.8,118.3 588.3,118 590.8,117.7 593.3,117.4 595.7,117.2 598.2,116.9 600.7,116.6 603.2,116.4 605.7,116.1 608.2,115.9 610.6,115.6 613.1,115.4 615.6,115.1 618.1,114.9 620.6,114.6 623.1,114.4 625.6,114.2 628,113.9 630.5,113.7 633,113.5 635.5,113.2 638,113"/>
</g>
<g clip-path="url(#cb)">
<polyline fill="none" stroke="none" marker-start="url(#b0)" marker-mid="url(#b0)" marker-end="url(#b0)" points="105.4,1118.1 106,1115.7 106.5,1113.5 107,1111.4 107.6,1109.5 108.1,1107.7 108.6,1106.1 109.2,1104.5 109.7,1103 110.2,1101.7 111.3,1099.2 112.4,1097 113.4,1095.1 114.5,1093.3 115.6,1091.8 116.6,1090.5 117.7,1089.2 118.7,1088.1 119.8,1087.1 121.4,1085.8 123,1084.6 124.6,1083.6 126.2,1082.7 127.8,1081.8 129.4,1081.1 131,1080.3 132.6,1079.7 134.2,1079 135.8,1078.4 137.4,1077.8 139,1077.3 140.6,1076.7 142.2,1076.2 143.8,1075.7 145.4,1075.2 147,1074.7 148.6,1074.2 150.2,1073.8 151.8,1073.3 153.4,1072.9 155,1072.4 156.6,1072 158.2,1071.5 159.8,1071.1 161.4,1070.7 162.9,1070.3 164.5,1069.9 166.1,1069.5 167.7,1069.1 169.3,1068.7 170.9,1068.3 172.5,1067.9 174.1,1067.5 175.7,1067.2 177.3,1066.8 178.9,1066.4 180.5,1066.1 182.1,1065.7 183.7,1065.3 185.3,1065 186.9,1064.7 188.5,1064.3 190.1,1064 191.7,1063.6 193.3,1063.3 194.9,1063 196.5,1062.7 198.1,1062.4 199.7,1062 201.3,1061.7 202.9,1061.4 204.5,1061.1 206.1,1060.8 207.7,1060.5 209.3,1060.2 210.9,1060 212.5,1059.7 214.1,1059.4 215.7,1059.1 217.3,1058.8 218.9,1058.6 220.5,1058.3 222.1,1058 223.7,1057.8 225.3,1057.5 226.9,1057.3 228.5,1057 230.1,1056.7 231.6,1056.5 233.2,1056.3 234.8,1056 236.4,1055.8 238,1055.5 239.6,1055.3 241.2,1055.1 242.8,1054.8 244.4,1054.6 246,1054.4 247.6,1054.2 249.2,1053.9 250.8,1053.7 252.4,1053.5 254,1053.3 255.6,1053.1 257.2,1052.9 258.8,1052.7 260.4,1052.5 262,1052.3 263.6,1052.1 265.2,1051.9 266.8,1051.7 268.4,1051.5 270,1051.3 271.6,1051.1 273.2,1050.9 274.8,1050.7 276.4,1050.5 278,1050.4 279.6,1050.2 281.2,1050 282.8,1049.8 284.4,1049.7 286,1049.5 287.6,1049.3 289.2,1049.1 290.8,1049 292.4,1048.8 294,1048.6 295.6,1048.5 297.2,1048.3 298.8,1048.2 300.3,1048 301.9,1047.9 303.5,1047.7 305.1,1047.5 306.7,1047.4 308.3,1047.2 309.9,1047.1 311.5,1047 313.1,1046.8 314.7,1046.7 316.3,1046.5 317.9,1046.4 319.5,1046.2 321.1,1046.1 322.7,1046 324.3,1045.8 325.9,1045.7 327.5,1045.6 329.1,1045.4 330.7,1045.3 332.3,1045.2 333.9,1045.1 335.5,1044.9 337.1,1044.8 338.7,1044.7 340.3,1044.6 341.9,1044.4 343.5,1044.3 345.1,1044.2 346.7,1044.1 348.3,1044 349.9,1043.9 351.5,1043.8 353.1,1043.6 354.7,1043.5 356.3,1043.4 357.9,1043.3 359.5,1043.2 361.1,1043.1 362.7,1043 364.3,1042.9 365.9,1042.8 367.5,1042.7 369,1042.6 370.6,1042.5 372.2,1042.4 373.8,1042.3 375.4,1042.2 377,1042.1 378.6,1042 380.2,1041.9 381.8,1041.8 383.4,1041.7 385,1041.6 386.6,1041.5 388.2,1041.4 389.8,1041.3 391.4,1041.2 393,1041.2 394.6,1041.1 396.2,1041 397.8,1040.9 399.4,1040.8 401,1040.7 402.6,1040.6 404.2,1040.6 405.8,1040.5 407.4,1040.4 409,1040.3 410.6,1040.2 412.2,1040.2 413.8,1040.1 415.4,1040 417,1039.9 418.6,1039.9 420.2,1039.8 421.8,1039.7 423.4,1039.6 425,1039.6 426.6,1039.5 428.2,1039.4 429.8,1039.3 431.4,1039.3 433,1039.2 434.6,1039.1 436.2,1039.1 437.7,1039 439.3,1038.9 440.9,1038.9 442.5,1038.8 444.1,1038.7 445.7,1038.7 447.3,1038.6 448.9,1038.5 450.5,1038.5 452.1,1038.4 453.7,1038.4 455.3,1038.3 456.9,1038.2 458.5,1038.2 460.1,1038.1 461.7,1038.1 463.3,1038 464.9,1037.9 466.5,1037.9 468.1,1037.8 469.7,1037.8 471.3,1037.7 472.9,1037.7 474.5,1037.6 476.1,1037.6 477.7,1037.5 479.3,1037.4 480.9,1037.4 482.5,1037.3 484.1,1037.3 485.7,1037.2 487.3,1037.2 488.9,1037.1 490.5,1037.1 492.1,1037 493.7,1037 495.3,1036.9 496.9,1036.9 498.5,1036.8 500.1,1036.8 501.7,1036.8 503.3,1036.7 504.9,1036.7 506.4,1036.6 508,1036.6 509.6,1036.5 511.2,1036.5 512.8,1036.4 514.4,1036.4 516,1036.3 517.6,1036.3 519.2,1036.3 520.8,1036.2 522.4,1036.2 524,1036.1 525.6,1036.1 527.2,1036.1 528.8,1036 530.4,1036 532,1035.9 533.6,1035.9 535.2,1035.9 536.8,1035.8 538.4,1035.8 540,1035.7 541.6,1035.7 543.2,1035.7 544.8,1035.6 546.4,1035.6 548,1035.6 549.6,1035.5 551.2,1035.5 552.8,1035.5 554.4,1035.4 556,1035.4 557.6,1035.4 559.2,1035.3 560.8,1035.3 562.4,1035.3 564,1035.2 565.6,1035.2 567.2,1035.2 568.8,1035.1 570.4,1035.1 572,1035.1 573.6,1035 575.1,1035 576.7,1035 578.3,1034.9 579.9,1034.9 581.5,1034.9 583.1,1034.8 584.7,1034.8 586.3,1034.8 587.9,1034.8 589.5,1034.7 591.1,1034.7 592.7,1034.7 594.3,1034.7 595.9,1034.6 597.5,1034.6 599.1,1034.6 600.7,1034.5 602.3,1034.5 603.9,1034.5 605.5,1034.5 607.1,1034.4 608.7,1034.4 610.3,1034.4 611.9,1034.4 613.5,1034.3 615.1,1034.3 616.7,1034.3 618.3,1034.3 619.9,1034.2 621.5,1034.2 623.1,1034.2 624.7,1034.2 626.3,1034.1 627.9,1034.1 629.5,1034.1 631.1,1034.1 632.7,1034.1 633.6,1034"/>
<polyline fill="none" stroke="#c4ccdc" stroke-width="2.6" stroke-linejoin="round" stroke-linecap="round" points="101.5,1179 101.5,1176.5 101.5,1174 101.5,1171.5 101.5,1169 101.5,1166.5 101.5,1164 101.5,1161.5 101.5,1159 101.5,1156.5 101.5,1154 101.5,1151.5 101.5,1149.1 101.5,1146.6 101.5,1144.1 101.5,1141.6 101.5,1139.1 101.5,1136.6 102.1,1134.7 102.8,1132.6 103.2,1130.1 103.6,1127.6 104,1125.2 104.5,1122.7 105,1120.3 105.5,1117.8 106,1115.4 106.6,1113 107.3,1110.6 108,1108.2 108.7,1105.8 109.5,1103.4 110.5,1101.1 111.5,1098.8 112.6,1096.6 113.8,1094.4 115.2,1092.4 116.7,1090.4 118.4,1088.5 120.2,1086.8 122.1,1085.3 124.2,1083.9 126.4,1082.6 128.6,1081.5 130.8,1080.4 133.1,1079.4 135.5,1078.5 137.8,1077.7 140.2,1076.9 142.5,1076.1 144.9,1075.3 147.3,1074.6 149.7,1073.9 152.1,1073.2 154.5,1072.5 156.9,1071.9 159.3,1071.2 161.7,1070.6 164.1,1070 166.6,1069.4 169,1068.8 171.4,1068.2 173.8,1067.6 176.3,1067 178.7,1066.5 181.1,1065.9 183.6,1065.4 186,1064.8 188.5,1064.3 190.9,1063.8 193.3,1063.3 195.8,1062.8 198.2,1062.3 200.7,1061.9 203.1,1061.4 205.6,1060.9 208,1060.5 210.5,1060 213,1059.6 215.4,1059.2 217.9,1058.7 220.3,1058.3 222.8,1057.9 225.3,1057.5 227.7,1057.1 230.2,1056.7 232.7,1056.3 235.1,1056 237.6,1055.6 240.1,1055.2 242.5,1054.9 245,1054.5 247.5,1054.2 249.9,1053.8 252.4,1053.5 254.9,1053.2 257.4,1052.9 259.8,1052.5 262.3,1052.2 264.8,1051.9 267.3,1051.6 269.8,1051.3 272.2,1051 274.7,1050.7 277.2,1050.4 279.7,1050.2 282.1,1049.9 284.6,1049.6 287.1,1049.4 289.6,1049.1 292.1,1048.8 294.6,1048.6 297,1048.3 299.5,1048.1 302,1047.8 304.5,1047.6 307,1047.4 309.5,1047.1 311.9,1046.9 314.4,1046.7 316.9,1046.5 319.4,1046.3 321.9,1046 324.4,1045.8 326.9,1045.6 329.4,1045.4 331.8,1045.2 334.3,1045 336.8,1044.8 339.3,1044.6 341.8,1044.5 344.3,1044.3 346.8,1044.1 349.3,1043.9 351.8,1043.7 354.2,1043.6 356.7,1043.4 359.2,1043.2 361.7,1043.1 364.2,1042.9 366.7,1042.7 369.2,1042.6 371.7,1042.4 374.2,1042.3 376.7,1042.1 379.1,1042 381.6,1041.8 384.1,1041.7 386.6,1041.5 389.1,1041.4 391.6,1041.2 394.1,1041.1 396.6,1041 399.1,1040.8 401.6,1040.7 404.1,1040.6 406.6,1040.4 409,1040.3 411.5,1040.2 414,1040.1 416.5,1040 419,1039.8 421.5,1039.7 424,1039.6 426.5,1039.5 429,1039.4 431.5,1039.3 434,1039.2 436.5,1039.1 439,1039 441.5,1038.8 444,1038.7 446.4,1038.6 448.9,1038.5 451.4,1038.4 453.9,1038.4 456.4,1038.3 458.9,1038.2 461.4,1038.1 463.9,1038 466.4,1037.9 468.9,1037.8 471.4,1037.7 473.9,1037.6 476.4,1037.5 478.9,1037.5 481.4,1037.4 483.9,1037.3 486.4,1037.2 488.8,1037.1 491.3,1037.1 493.8,1037 496.3,1036.9 498.8,1036.8 501.3,1036.8 503.8,1036.7 506.3,1036.6 508.8,1036.5 511.3,1036.5 513.8,1036.4 516.3,1036.3 518.8,1036.3 521.3,1036.2 523.8,1036.1 526.3,1036.1 528.8,1036 531.3,1036 533.8,1035.9 536.2,1035.8 538.7,1035.8 541.2,1035.7 543.7,1035.7 546.2,1035.6 548.7,1035.5 551.2,1035.5 553.7,1035.4 556.2,1035.4 558.7,1035.3 561.2,1035.3 563.7,1035.2 566.2,1035.2 568.7,1035.1 571.2,1035.1 573.7,1035 576.2,1035 578.7,1034.9 581.2,1034.9 583.7,1034.8 586.1,1034.8 588.6,1034.7 591.1,1034.7 593.6,1034.7 596.1,1034.6 598.6,1034.6 601.1,1034.5 603.6,1034.5 606.1,1034.5 608.6,1034.4 611.1,1034.4 613.6,1034.3 616.1,1034.3 618.6,1034.3 621.1,1034.2 623.6,1034.2 626.1,1034.1 628.6,1034.1 631.1,1034.1 633.6,1034"/>
<polyline fill="none" stroke="none" marker-start="url(#b1)" marker-mid="url(#b1)" marker-end="url(#b1)" points="101.9,1128.7 101.9,1109.2 110.5,1103.3 111.1,1101 111.6,1098.8 112.1,1096.7 112.7,1094.8 113.2,1092.9 113.7,1091.1 114.2,1089.5 114.8,1087.9 115.3,1086.4 115.8,1084.9 116.4,1083.6 116.9,1082.2 118,1079.8 119,1077.5 120.1,1075.4 121.2,1073.4 122.2,1071.5 123.3,1069.8 124.4,1068.2 125.4,1066.6 126.5,1065.1 127.6,1063.7 128.6,1062.4 129.7,1061.1 130.8,1059.8 131.8,1058.7 132.9,1057.5 134,1056.4 135,1055.3 136.1,1054.3 137.1,1053.3 138.2,1052.3 139.3,1051.3 140.3,1050.4 141.9,1049 143.5,1047.7 145.1,1046.5 146.7,1045.3 148.3,1044.1 149.9,1043 151.5,1041.9 153.1,1040.8 154.7,1039.8 156.3,1038.8 157.9,1037.8 159.5,1036.9 161.1,1036 162.7,1035.1 164.3,1034.2 165.9,1033.3 167.5,1032.5 169.1,1031.7 170.7,1030.9 172.3,1030.1 173.9,1029.3 175.5,1028.6 177.1,1027.9 178.7,1027.1 180.3,1026.4 181.9,1025.7 183.5,1025 185.1,1024.4 186.7,1023.7 188.3,1023.1 189.9,1022.4 191.5,1021.8 193.1,1021.2 194.7,1020.5 196.3,1019.9 197.9,1019.3 199.5,1018.7 201.1,1018.2 202.7,1017.6 204.3,1017 205.8,1016.5 207.4,1015.9 209,1015.4 210.6,1014.8 212.2,1014.3 213.8,1013.8 215.4,1013.2 217,1012.7 218.6,1012.2 220.2,1011.7 221.8,1011.2 223.4,1010.7 225,1010.2 226.6,1009.8 228.2,1009.3 229.8,1008.8 231.4,1008.3 233,1007.9 234.6,1007.4 236.2,1006.9 237.8,1006.5 239.4,1006 241,1005.6 242.6,1005.2 244.2,1004.7 245.8,1004.3 247.4,1003.9 249,1003.4 250.6,1003 252.2,1002.6 253.8,1002.2 255.4,1001.8 257,1001.4 258.6,1001 260.2,1000.6 261.8,1000.2 263.4,999.8 265,999.4 266.6,999 268.2,998.6 269.8,998.2 271.4,997.9 273,997.5 274.6,997.1 276.1,996.7 277.7,996.4 279.3,996 280.9,995.7 282.5,995.3 284.1,995 285.7,994.6 287.3,994.3 288.9,993.9 290.5,993.6 292.1,993.2 293.7,992.9 295.3,992.6 296.9,992.2 298.5,991.9 300.1,991.6 301.7,991.3 303.3,990.9 304.9,990.6 306.5,990.3 308.1,990 309.7,989.7 311.3,989.4 312.9,989.1 314.5,988.8 316.1,988.5 317.7,988.2 319.3,987.9 320.9,987.6 322.5,987.3 324.1,987 325.7,986.7 327.3,986.4 328.9,986.2 330.5,985.9 332.1,985.6 333.7,985.3 335.3,985.1 336.9,984.8 338.5,984.5 340.1,984.3 341.7,984 343.3,983.7 344.8,983.5 346.4,983.2 348,983 349.6,982.7 351.2,982.5 352.8,982.2 354.4,982 356,981.7 357.6,981.5 359.2,981.2 360.8,981 362.4,980.8 364,980.5 365.6,980.3 367.2,980.1 368.8,979.8 370.4,979.6 372,979.4 373.6,979.1 375.2,978.9 376.8,978.7 378.4,978.5 380,978.3 381.6,978 383.2,977.8 384.8,977.6 386.4,977.4 388,977.2 389.6,977 391.2,976.8 392.8,976.6 394.4,976.4 396,976.2 397.6,976 399.2,975.8 400.8,975.6 402.4,975.4 404,975.2 405.6,975 407.2,974.8 408.8,974.6 410.4,974.4 412,974.3 413.5,974.1 415.1,973.9 416.7,973.7 418.3,973.5 419.9,973.4 421.5,973.2 423.1,973 424.7,972.8 426.3,972.7 427.9,972.5 429.5,972.3 431.1,972.1 432.7,972 434.3,971.8 435.9,971.6 437.5,971.5 439.1,971.3 440.7,971.2 442.3,971 443.9,970.8 445.5,970.7 447.1,970.5 448.7,970.4 450.3,970.2 451.9,970.1 453.5,969.9 455.1,969.8 456.7,969.6 458.3,969.5 459.9,969.3 461.5,969.2 463.1,969 464.7,968.9 466.3,968.8 467.9,968.6 469.5,968.5 471.1,968.3 472.7,968.2 474.3,968.1 475.9,967.9 477.5,967.8 479.1,967.7 480.7,967.5 482.2,967.4 483.8,967.3 485.4,967.1 487,967 488.6,966.9 490.2,966.8 491.8,966.6 493.4,966.5 495,966.4 496.6,966.3 498.2,966.1 499.8,966 501.4,965.9 503,965.8 504.6,965.7 506.2,965.6 507.8,965.4 509.4,965.3 511,965.2 512.6,965.1 514.2,965 515.8,964.9 517.4,964.8 519,964.7 520.6,964.6 522.2,964.4 523.8,964.3 525.4,964.2 527,964.1 528.6,964 530.2,963.9 531.8,963.8 533.4,963.7 535,963.6 536.6,963.5 538.2,963.4 539.8,963.3 541.4,963.2 543,963.1 544.6,963 546.2,962.9 547.8,962.8 549.4,962.8 550.9,962.7 552.5,962.6 554.1,962.5 555.7,962.4 557.3,962.3 558.9,962.2 560.5,962.1 562.1,962 563.7,961.9 565.3,961.9 566.9,961.8 568.5,961.7 570.1,961.6 571.7,961.5 573.3,961.4 574.9,961.4 576.5,961.3 578.1,961.2 579.7,961.1 581.3,961 582.9,961 584.5,960.9 586.1,960.8 587.7,960.7 589.3,960.6 590.9,960.6 592.5,960.5 594.1,960.4 595.7,960.3 597.3,960.3 598.9,960.2 600.5,960.1 602.1,960 603.7,960 605.3,959.9 606.9,959.8 608.5,959.8 610.1,959.7 611.7,959.6 613.3,959.6 614.9,959.5 616.5,959.4 618.1,959.4 619.6,959.3 621.2,959.2 622.8,959.2 624.4,959.1 626,959 627.6,959 629.2,958.9 630.8,958.8 632.4,958.8 633.6,958.7"/>
<polyline fill="none" stroke="#a8b4dc" stroke-width="2.6" stroke-linejoin="round" stroke-linecap="round" points="101.5,1179 101.5,1176.5 101.5,1174 101.5,1171.5 101.5,1169 101.5,1166.5 101.5,1164 101.5,1161.5 101.5,1159 101.5,1156.5 103,1155.5 103.6,1153.4 103.8,1150.9 104,1148.4 104.3,1145.9 104.5,1143.5 104.8,1141 105.1,1138.5 105.3,1136 105.6,1133.5 105.9,1131 106.3,1128.6 106.6,1126.1 106.9,1123.6 107.3,1121.1 107.7,1118.7 108.1,1116.2 108.5,1113.7 108.9,1111.3 109.4,1108.8 109.9,1106.4 110.4,1103.9 110.9,1101.5 111.5,1099.1 112.1,1096.6 112.8,1094.2 113.5,1091.8 114.3,1089.5 115.1,1087.1 115.9,1084.7 116.8,1082.4 117.8,1080.1 118.9,1077.8 120,1075.6 121.2,1073.4 122.4,1071.3 123.8,1069.1 125.1,1067.1 126.6,1065 128.1,1063 129.7,1061.1 131.3,1059.2 133,1057.4 134.8,1055.6 136.5,1053.8 138.4,1052.1 140.2,1050.5 142.2,1048.9 144.1,1047.3 146.1,1045.8 148.1,1044.3 150.1,1042.9 152.2,1041.4 154.3,1040.1 156.4,1038.8 158.6,1037.5 160.7,1036.2 162.9,1035 165.1,1033.8 167.3,1032.6 169.5,1031.5 171.8,1030.4 174,1029.3 176.3,1028.2 178.6,1027.2 180.8,1026.2 183.1,1025.2 185.4,1024.2 187.7,1023.3 190.1,1022.3 192.4,1021.4 194.7,1020.5 197.1,1019.6 199.4,1018.8 201.7,1017.9 204.1,1017.1 206.5,1016.3 208.8,1015.4 211.2,1014.6 213.6,1013.9 215.9,1013.1 218.3,1012.3 220.7,1011.6 223.1,1010.8 225.5,1010.1 227.9,1009.4 230.3,1008.7 232.7,1008 235.1,1007.3 237.5,1006.6 239.9,1005.9 242.3,1005.2 244.7,1004.6 247.1,1003.9 249.5,1003.3 251.9,1002.7 254.4,1002 256.8,1001.4 259.2,1000.8 261.6,1000.2 264.1,999.6 266.5,999 268.9,998.4 271.3,997.9 273.8,997.3 276.2,996.7 278.7,996.2 281.1,995.6 283.5,995.1 286,994.6 288.4,994 290.9,993.5 293.3,993 295.8,992.5 298.2,992 300.6,991.5 303.1,991 305.6,990.5 308,990 310.5,989.5 312.9,989.1 315.4,988.6 317.8,988.2 320.3,987.7 322.7,987.3 325.2,986.8 327.7,986.4 330.1,985.9 332.6,985.5 335,985.1 337.5,984.7 340,984.3 342.4,983.9 344.9,983.5 347.4,983.1 349.8,982.7 352.3,982.3 354.8,981.9 357.3,981.5 359.7,981.2 362.2,980.8 364.7,980.4 367.1,980.1 369.6,979.7 372.1,979.4 374.6,979 377,978.7 379.5,978.3 382,978 384.5,977.7 386.9,977.3 389.4,977 391.9,976.7 394.4,976.4 396.9,976.1 399.3,975.8 401.8,975.5 404.3,975.2 406.8,974.9 409.3,974.6 411.7,974.3 414.2,974 416.7,973.7 419.2,973.4 421.7,973.2 424.2,972.9 426.6,972.6 429.1,972.4 431.6,972.1 434.1,971.8 436.6,971.6 439.1,971.3 441.6,971.1 444,970.8 446.5,970.6 449,970.3 451.5,970.1 454,969.9 456.5,969.6 459,969.4 461.5,969.2 464,969 466.4,968.7 468.9,968.5 471.4,968.3 473.9,968.1 476.4,967.9 478.9,967.7 481.4,967.5 483.9,967.3 486.4,967.1 488.9,966.9 491.3,966.7 493.8,966.5 496.3,966.3 498.8,966.1 501.3,965.9 503.8,965.7 506.3,965.6 508.8,965.4 511.3,965.2 513.8,965 516.3,964.8 518.8,964.7 521.3,964.5 523.8,964.3 526.2,964.2 528.7,964 531.2,963.9 533.7,963.7 536.2,963.5 538.7,963.4 541.2,963.2 543.7,963.1 546.2,962.9 548.7,962.8 551.2,962.6 553.7,962.5 556.2,962.4 558.7,962.2 561.2,962.1 563.7,961.9 566.2,961.8 568.7,961.7 571.1,961.5 573.6,961.4 576.1,961.3 578.6,961.2 581.1,961 583.6,960.9 586.1,960.8 588.6,960.7 591.1,960.6 593.6,960.4 596.1,960.3 598.6,960.2 601.1,960.1 603.6,960 606.1,959.9 608.6,959.8 611.1,959.7 613.6,959.5 616.1,959.4 618.6,959.3 621.1,959.2 623.6,959.1 626.1,959 628.6,958.9 631.1,958.8 633.6,958.7"/>
<polyline fill="none" stroke="none" marker-start="url(#b2)" marker-mid="url(#b2)" marker-end="url(#b2)" points="101.4,1124.2 101.4,1115.1 101.4,1102.7 107.3,1097.4 107.9,1095.1 108.4,1092.7 108.9,1090.5 109.5,1088.3 110,1086.2 110.5,1084.2 111.1,1082.2 111.6,1080.3 112.1,1078.4 112.7,1076.6 113.2,1074.8 113.7,1073.1 114.3,1071.4 114.8,1069.8 115.3,1068.2 115.9,1066.7 116.4,1065.2 116.9,1063.7 117.5,1062.3 118,1060.9 118.5,1059.5 119,1058.2 120.1,1055.6 121.2,1053.2 122.2,1050.9 123.3,1048.7 124.4,1046.6 125.4,1044.5 126.5,1042.6 127.6,1040.7 128.6,1038.9 129.7,1037.2 130.8,1035.5 131.8,1033.9 132.9,1032.3 134,1030.8 135,1029.4 136.1,1027.9 137.2,1026.6 138.2,1025.2 139.3,1024 140.4,1022.7 141.4,1021.5 142.5,1020.3 143.5,1019.1 144.6,1018 145.7,1016.9 146.7,1015.8 147.8,1014.7 148.9,1013.7 149.9,1012.7 151,1011.7 152.1,1010.7 153.1,1009.7 154.2,1008.8 155.3,1007.9 156.9,1006.5 158.5,1005.2 160.1,1003.9 161.7,1002.7 163.3,1001.5 164.8,1000.3 166.4,999.1 168,997.9 169.6,996.8 171.2,995.7 172.8,994.6 174.4,993.6 176,992.6 177.6,991.5 179.2,990.5 180.8,989.6 182.4,988.6 184,987.7 185.6,986.7 187.2,985.8 188.8,984.9 190.4,984.1 192,983.2 193.6,982.3 195.2,981.5 196.8,980.7 198.4,979.9 200,979.1 201.6,978.3 203.2,977.5 204.8,976.8 206.4,976 208,975.3 209.6,974.6 211.2,973.9 212.8,973.2 214.4,972.5 216,971.8 217.6,971.1 219.2,970.5 220.8,969.8 222.4,969.2 224,968.6 225.6,968 227.2,967.3 228.8,966.7 230.4,966.2 232,965.6 233.5,965 235.1,964.4 236.7,963.9 238.3,963.3 239.9,962.8 241.5,962.3 243.1,961.7 244.7,961.2 246.3,960.7 247.9,960.2 249.5,959.7 251.1,959.2 252.7,958.7 254.3,958.3 255.9,957.8 257.5,957.3 259.1,956.9 260.7,956.4 262.3,956 263.9,955.5 265.5,955.1 267.1,954.7 268.7,954.3 270.3,953.9 271.9,953.5 273.5,953 275.1,952.6 276.7,952.3 278.3,951.9 279.9,951.5 281.5,951.1 283.1,950.7 284.7,950.4 286.3,950 287.9,949.6 289.5,949.3 291.1,948.9 292.7,948.6 294.3,948.3 295.9,947.9 297.5,947.6 299.1,947.3 300.7,946.9 302.2,946.6 303.8,946.3 305.4,946 307,945.7 308.6,945.4 310.2,945.1 311.8,944.8 313.4,944.5 315,944.2 316.6,943.9 318.2,943.6 319.8,943.3 321.4,943.1 323,942.8 324.6,942.5 326.2,942.3 327.8,942 329.4,941.7 331,941.5 332.6,941.2 334.2,941 335.8,940.7 337.4,940.5 339,940.2 340.6,940 342.2,939.8 343.8,939.5 345.4,939.3 347,939.1 348.6,938.8 350.2,938.6 351.8,938.4 353.4,938.2 355,937.9 356.6,937.7 358.2,937.5 359.8,937.3 361.4,937.1 363,936.9 364.6,936.7 366.2,936.5 367.8,936.3 369.4,936.1 370.9,935.9 372.5,935.7 374.1,935.5 375.7,935.3 377.3,935.1 378.9,934.9 380.5,934.7 382.1,934.6 383.7,934.4 385.3,934.2 386.9,934 388.5,933.8 390.1,933.7 391.7,933.5 393.3,933.3 394.9,933.2 396.5,933 398.1,932.8 399.7,932.7 401.3,932.5 402.9,932.3 404.5,932.2 406.1,932 407.7,931.9 409.3,931.7 410.9,931.6 412.5,931.4 414.1,931.2 415.7,931.1 417.3,931 418.9,930.8 420.5,930.7 422.1,930.5 423.7,930.4 425.3,930.2 426.9,930.1 428.5,930 430.1,929.8 431.7,929.7 433.3,929.5 434.9,929.4 436.5,929.3 438.1,929.1 439.6,929 441.2,928.9 442.8,928.8 444.4,928.6 446,928.5 447.6,928.4 449.2,928.3 450.8,928.1 452.4,928 454,927.9 455.6,927.8 457.2,927.7 458.8,927.5 460.4,927.4 462,927.3 463.6,927.2 465.2,927.1 466.8,927 468.4,926.9 470,926.8 471.6,926.6 473.2,926.5 474.8,926.4 476.4,926.3 478,926.2 479.6,926.1 481.2,926 482.8,925.9 484.4,925.8 486,925.7 487.6,925.6 489.2,925.5 490.8,925.4 492.4,925.3 494,925.2 495.6,925.1 497.2,925 498.8,924.9 500.4,924.8 502,924.7 503.6,924.6 505.2,924.5 506.8,924.4 508.4,924.4 509.9,924.3 511.5,924.2 513.1,924.1 514.7,924 516.3,923.9 517.9,923.8 519.5,923.7 521.1,923.7 522.7,923.6 524.3,923.5 525.9,923.4 527.5,923.3 529.1,923.2 530.7,923.2 532.3,923.1 533.9,923 535.5,922.9 537.1,922.8 538.7,922.8 540.3,922.7 541.9,922.6 543.5,922.5 545.1,922.5 546.7,922.4 548.3,922.3 549.9,922.2 551.5,922.2 553.1,922.1 554.7,922 556.3,921.9 557.9,921.9 559.5,921.8 561.1,921.7 562.7,921.7 564.3,921.6 565.9,921.5 567.5,921.5 569.1,921.4 570.7,921.3 572.3,921.3 573.9,921.2 575.5,921.1 577.1,921.1 578.6,921 580.2,920.9 581.8,920.9 583.4,920.8 585,920.7 586.6,920.7 588.2,920.6 589.8,920.6 591.4,920.5 593,920.4 594.6,920.4 596.2,920.3 597.8,920.3 599.4,920.2 601,920.1 602.6,920.1 604.2,920 605.8,920 607.4,919.9 609,919.8 610.6,919.8 612.2,919.7 613.8,919.7 615.4,919.6 617,919.6 618.6,919.5 620.2,919.5 621.8,919.4 623.4,919.4 625,919.3 626.6,919.3 628.2,919.2 629.8,919.2 631.4,919.1 633,919.1 633.6,919"/>
<polyline fill="none" stroke="#a4ccd4" stroke-width="2.6" stroke-linejoin="round" stroke-linecap="round" points="101.5,1179 101.5,1176.5 101.5,1174 101.5,1171.5 101.5,1169 101.5,1166.5 101.5,1164 101.5,1161.5 101.5,1159 101.5,1156.5 101.5,1154 101.5,1151.5 101.5,1149 101.5,1146.5 101.5,1144 101.5,1141.5 101.5,1139 101.5,1136.5 101.5,1134 101.5,1131.5 101.5,1129 101.9,1126.8 102.3,1124.3 102.7,1121.8 103.1,1119.4 103.5,1116.9 103.9,1114.4 104.4,1112 104.9,1109.5 105.3,1107.1 105.8,1104.6 106.3,1102.2 106.8,1099.7 107.4,1097.3 107.9,1094.9 108.5,1092.4 109.1,1090 109.7,1087.6 110.3,1085.1 110.9,1082.7 111.6,1080.3 112.3,1077.9 113,1075.5 113.7,1073.1 114.5,1070.8 115.3,1068.4 116.1,1066 116.9,1063.7 117.8,1061.3 118.7,1059 119.7,1056.7 120.7,1054.4 121.7,1052.1 122.7,1049.9 123.8,1047.6 125,1045.4 126.2,1043.2 127.4,1041 128.7,1038.9 130,1036.7 131.3,1034.6 132.7,1032.6 134.2,1030.5 135.7,1028.5 137.2,1026.5 138.8,1024.6 140.4,1022.7 142,1020.8 143.7,1019 145.4,1017.1 147.2,1015.4 149,1013.6 150.8,1011.9 152.6,1010.2 154.5,1008.6 156.4,1006.9 158.3,1005.3 160.3,1003.8 162.2,1002.2 164.2,1000.7 166.2,999.2 168.3,997.8 170.3,996.4 172.4,995 174.5,993.6 176.6,992.2 178.7,990.9 180.8,989.6 182.9,988.3 185.1,987 187.3,985.8 189.4,984.6 191.6,983.4 193.8,982.2 196.1,981.1 198.3,979.9 200.5,978.8 202.8,977.7 205,976.7 207.3,975.6 209.6,974.6 211.9,973.6 214.2,972.6 216.5,971.6 218.8,970.6 221.1,969.7 223.4,968.8 225.7,967.9 228.1,967 230.4,966.1 232.8,965.3 235.1,964.4 237.5,963.6 239.9,962.8 242.2,962 244.6,961.3 247,960.5 249.4,959.8 251.8,959 254.1,958.3 256.5,957.6 258.9,956.9 261.4,956.3 263.8,955.6 266.2,954.9 268.6,954.3 271,953.7 273.4,953.1 275.9,952.5 278.3,951.9 280.7,951.3 283.2,950.7 285.6,950.2 288,949.6 290.5,949.1 292.9,948.5 295.4,948 297.8,947.5 300.2,947 302.7,946.5 305.1,946.1 307.6,945.6 310.1,945.1 312.5,944.7 315,944.2 317.4,943.8 319.9,943.3 322.4,942.9 324.8,942.5 327.3,942.1 329.7,941.7 332.2,941.3 334.7,940.9 337.2,940.5 339.6,940.1 342.1,939.8 344.6,939.4 347,939 349.5,938.7 352,938.3 354.5,938 356.9,937.7 359.4,937.3 361.9,937 364.4,936.7 366.9,936.4 369.3,936.1 371.8,935.8 374.3,935.5 376.8,935.2 379.3,934.9 381.7,934.6 384.2,934.3 386.7,934 389.2,933.8 391.7,933.5 394.2,933.2 396.6,933 399.1,932.7 401.6,932.5 404.1,932.2 406.6,932 409.1,931.7 411.6,931.5 414,931.3 416.5,931 419,930.8 421.5,930.6 424,930.3 426.5,930.1 429,929.9 431.5,929.7 434,929.5 436.4,929.3 438.9,929.1 441.4,928.9 443.9,928.7 446.4,928.5 448.9,928.3 451.4,928.1 453.9,927.9 456.4,927.7 458.9,927.5 461.4,927.4 463.9,927.2 466.3,927 468.8,926.8 471.3,926.7 473.8,926.5 476.3,926.3 478.8,926.2 481.3,926 483.8,925.8 486.3,925.7 488.8,925.5 491.3,925.4 493.8,925.2 496.3,925.1 498.8,924.9 501.3,924.8 503.8,924.6 506.2,924.5 508.7,924.3 511.2,924.2 513.7,924.1 516.2,923.9 518.7,923.8 521.2,923.7 523.7,923.5 526.2,923.4 528.7,923.3 531.2,923.1 533.7,923 536.2,922.9 538.7,922.8 541.2,922.6 543.7,922.5 546.2,922.4 548.7,922.3 551.2,922.2 553.7,922.1 556.2,921.9 558.7,921.8 561.1,921.7 563.6,921.6 566.1,921.5 568.6,921.4 571.1,921.3 573.6,921.2 576.1,921.1 578.6,921 581.1,920.9 583.6,920.8 586.1,920.7 588.6,920.6 591.1,920.5 593.6,920.4 596.1,920.3 598.6,920.2 601.1,920.1 603.6,920 606.1,920 608.6,919.9 611.1,919.8 613.6,919.7 616.1,919.6 618.6,919.5 621.1,919.4 623.6,919.4 626.1,919.3 628.6,919.2 631.1,919.1 633.6,919"/>
<polyline fill="none" stroke="none" marker-start="url(#b3)" marker-mid="url(#b3)" marker-end="url(#b3)" points="101.4,1119.5 101.4,1107.7 101.4,1093 101.4,1082.7 104.4,1088.6 105,1085.4 105.5,1082.3 106,1079.4 106.6,1076.5 107.1,1073.8 107.6,1071.1 108.2,1068.6 108.7,1066.1 109.2,1063.8 109.8,1061.5 110.3,1059.2 110.8,1057.1 111.4,1055 111.9,1053 112.4,1051 113,1049.1 113.5,1047.2 114,1045.4 114.6,1043.7 115.1,1042 115.6,1040.3 116.1,1038.7 116.7,1037.1 117.2,1035.6 117.7,1034 118.3,1032.6 118.8,1031.1 119.3,1029.7 119.9,1028.3 120.4,1027 120.9,1025.6 121.5,1024.3 122.5,1021.8 123.6,1019.3 124.7,1016.9 125.7,1014.7 126.8,1012.4 127.9,1010.3 128.9,1008.2 130,1006.1 131.1,1004.1 132.1,1002.2 133.2,1000.3 134.3,998.4 135.3,996.6 136.4,994.8 137.5,993.1 138.5,991.3 139.6,989.7 140.6,988 141.7,986.4 142.8,984.8 143.8,983.3 144.9,981.7 146,980.2 147,978.7 148.1,977.3 149.2,975.8 150.2,974.4 151.3,973 152.4,971.7 153.4,970.3 154.5,969 155.6,967.7 156.6,966.4 157.7,965.1 158.8,963.9 159.8,962.7 160.9,961.5 161.9,960.3 163,959.1 164.1,957.9 165.1,956.8 166.2,955.7 167.3,954.6 168.3,953.5 169.4,952.4 170.5,951.3 171.5,950.3 172.6,949.3 173.7,948.2 174.7,947.2 175.8,946.2 176.9,945.3 177.9,944.3 179,943.4 180.1,942.4 181.1,941.5 182.2,940.6 183.8,939.3 185.4,937.9 187,936.7 188.6,935.4 190.2,934.2 191.8,933 193.4,931.8 195,930.6 196.6,929.5 198.2,928.4 199.8,927.3 201.4,926.2 203,925.1 204.6,924.1 206.2,923.1 207.7,922.1 209.3,921.1 210.9,920.2 212.5,919.3 214.1,918.3 215.7,917.5 217.3,916.6 218.9,915.7 220.5,914.9 222.1,914 223.7,913.2 225.3,912.4 226.9,911.6 228.5,910.9 230.1,910.1 231.7,909.4 233.3,908.6 234.9,907.9 236.5,907.2 238.1,906.5 239.7,905.9 241.3,905.2 242.9,904.5 244.5,903.9 246.1,903.3 247.7,902.7 249.3,902.1 250.9,901.5 252.5,900.9 254.1,900.3 255.7,899.7 257.3,899.2 258.9,898.6 260.5,898.1 262.1,897.6 263.7,897 265.3,896.5 266.9,896 268.5,895.5 270.1,895.1 271.7,894.6 273.3,894.1 274.9,893.6 276.4,893.2 278,892.7 279.6,892.3 281.2,891.9 282.8,891.4 284.4,891 286,890.6 287.6,890.2 289.2,889.8 290.8,889.4 292.4,889 294,888.6 295.6,888.3 297.2,887.9 298.8,887.5 300.4,887.2 302,886.8 303.6,886.5 305.2,886.1 306.8,885.8 308.4,885.4 310,885.1 311.6,884.8 313.2,884.5 314.8,884.1 316.4,883.8 318,883.5 319.6,883.2 321.2,882.9 322.8,882.6 324.4,882.3 326,882.1 327.6,881.8 329.2,881.5 330.8,881.2 332.4,880.9 334,880.7 335.6,880.4 337.2,880.1 338.8,879.9 340.4,879.6 342,879.4 343.6,879.1 345.1,878.9 346.7,878.6 348.3,878.4 349.9,878.2 351.5,877.9 353.1,877.7 354.7,877.5 356.3,877.2 357.9,877 359.5,876.8 361.1,876.6 362.7,876.4 364.3,876.1 365.9,875.9 367.5,875.7 369.1,875.5 370.7,875.3 372.3,875.1 373.9,874.9 375.5,874.7 377.1,874.5 378.7,874.3 380.3,874.1 381.9,873.9 383.5,873.7 385.1,873.6 386.7,873.4 388.3,873.2 389.9,873 391.5,872.8 393.1,872.6 394.7,872.5 396.3,872.3 397.9,872.1 399.5,872 401.1,871.8 402.7,871.6 404.3,871.5 405.9,871.3 407.5,871.1 409.1,871 410.7,870.8 412.3,870.6 413.8,870.5 415.4,870.3 417,870.2 418.6,870 420.2,869.9 421.8,869.7 423.4,869.6 425,869.4 426.6,869.3 428.2,869.1 429.8,869 431.4,868.8 433,868.7 434.6,868.6 436.2,868.4 437.8,868.3 439.4,868.1 441,868 442.6,867.9 444.2,867.7 445.8,867.6 447.4,867.5 449,867.3 450.6,867.2 452.2,867.1 453.8,867 455.4,866.8 457,866.7 458.6,866.6 460.2,866.5 461.8,866.3 463.4,866.2 465,866.1 466.6,866 468.2,865.9 469.8,865.7 471.4,865.6 473,865.5 474.6,865.4 476.2,865.3 477.8,865.2 479.4,865 481,864.9 482.6,864.8 484.1,864.7 485.7,864.6 487.3,864.5 488.9,864.4 490.5,864.3 492.1,864.2 493.7,864.1 495.3,863.9 496.9,863.8 498.5,863.7 500.1,863.6 501.7,863.5 503.3,863.4 504.9,863.3 506.5,863.2 508.1,863.1 509.7,863 511.3,862.9 512.9,862.8 514.5,862.7 516.1,862.6 517.7,862.5 519.3,862.4 520.9,862.3 522.5,862.2 524.1,862.1 525.7,862.1 527.3,862 528.9,861.9 530.5,861.8 532.1,861.7 533.7,861.6 535.3,861.5 536.9,861.4 538.5,861.3 540.1,861.2 541.7,861.1 543.3,861.1 544.9,861 546.5,860.9 548.1,860.8 549.7,860.7 551.3,860.6 552.8,860.5 554.4,860.5 556,860.4 557.6,860.3 559.2,860.2 560.8,860.1 562.4,860 564,860 565.6,859.9 567.2,859.8 568.8,859.7 570.4,859.6 572,859.6 573.6,859.5 575.2,859.4 576.8,859.3 578.4,859.2 580,859.2 581.6,859.1 583.2,859 584.8,858.9 586.4,858.9 588,858.8 589.6,858.7 591.2,858.6 592.8,858.6 594.4,858.5 596,858.4 597.6,858.3 599.2,858.3 600.8,858.2 602.4,858.1 604,858.1 605.6,858 607.2,857.9 608.8,857.8 610.4,857.8 612,857.7 613.6,857.6 615.2,857.6 616.8,857.5 618.4,857.4 620,857.4 621.5,857.3 623.1,857.2 624.7,857.2 626.3,857.1 627.9,857 629.5,857 631.1,856.9 632.7,856.8 633.6,856.8"/>
<polyline fill="none" stroke="#ead2a0" stroke-width="2.6" stroke-linejoin="round" stroke-linecap="round" points="101.5,1179 101.5,1176.5 101.5,1174 101.5,1171.5 101.5,1169 101.5,1166.5 101.5,1164 101.5,1161.5 101.5,1159 101.5,1156.5 101.5,1154 101.5,1151.5 101.5,1149 101.5,1146.5 101.5,1144 101.5,1141.5 101.5,1139 101.5,1136.5 101.5,1134 101.5,1131.5 101.5,1129 101.5,1126.5 101.5,1124 101.5,1121.5 101.5,1119 101.5,1116.4 101.5,1113.9 101.1,1111.9 101.4,1109.4 101.7,1107 102.1,1104.5 102.4,1102 102.8,1099.5 103.1,1097.1 103.5,1094.6 103.9,1092.1 104.3,1089.6 104.7,1087.2 105.1,1084.7 105.5,1082.2 106,1079.8 106.4,1077.3 106.9,1074.9 107.4,1072.4 107.9,1069.9 108.4,1067.5 108.9,1065.1 109.5,1062.6 110.1,1060.2 110.7,1057.8 111.3,1055.3 111.9,1052.9 112.6,1050.5 113.2,1048.1 113.9,1045.7 114.7,1043.3 115.4,1040.9 116.2,1038.5 117,1036.2 117.8,1033.8 118.7,1031.4 119.6,1029.1 120.5,1026.8 121.4,1024.5 122.4,1022.1 123.4,1019.8 124.4,1017.6 125.4,1015.3 126.5,1013 127.6,1010.8 128.7,1008.5 129.9,1006.3 131.1,1004.1 132.3,1001.9 133.5,999.7 134.7,997.6 136,995.4 137.3,993.3 138.6,991.2 140,989 141.4,986.9 142.7,984.9 144.2,982.8 145.6,980.8 147,978.7 148.5,976.7 150,974.7 151.6,972.7 153.1,970.7 154.7,968.8 156.3,966.9 157.9,965 159.5,963.1 161.1,961.2 162.8,959.3 164.5,957.5 166.2,955.7 168,953.9 169.7,952.1 171.5,950.3 173.3,948.6 175.1,946.9 177,945.2 178.8,943.5 180.7,941.9 182.6,940.2 184.5,938.6 186.5,937.1 188.4,935.5 190.4,934 192.4,932.5 194.4,931 196.5,929.5 198.5,928.1 200.6,926.7 202.7,925.3 204.8,924 206.9,922.6 209.1,921.3 211.2,920 213.4,918.8 215.5,917.6 217.7,916.4 219.9,915.2 222.2,914 224.4,912.9 226.6,911.8 228.9,910.7 231.2,909.6 233.4,908.6 235.7,907.6 238,906.6 240.3,905.6 242.6,904.7 245,903.7 247.3,902.8 249.6,901.9 252,901.1 254.3,900.2 256.7,899.4 259.1,898.6 261.4,897.8 263.8,897 266.2,896.2 268.6,895.5 271,894.8 273.4,894.1 275.8,893.4 278.2,892.7 280.6,892 283,891.4 285.4,890.8 287.9,890.1 290.3,889.5 292.7,888.9 295.2,888.4 297.6,887.8 300,887.3 302.5,886.7 304.9,886.2 307.4,885.7 309.8,885.1 312.3,884.7 314.7,884.2 317.2,883.7 319.6,883.2 322.1,882.8 324.6,882.3 327,881.9 329.5,881.4 332,881 334.4,880.6 336.9,880.2 339.4,879.8 341.8,879.4 344.3,879 346.8,878.6 349.2,878.3 351.7,877.9 354.2,877.5 356.7,877.2 359.2,876.8 361.6,876.5 364.1,876.2 366.6,875.8 369.1,875.5 371.6,875.2 374,874.9 376.5,874.6 379,874.3 381.5,874 384,873.7 386.5,873.4 388.9,873.1 391.4,872.8 393.9,872.6 396.4,872.3 398.9,872 401.4,871.8 403.9,871.5 406.4,871.2 408.9,871 411.3,870.7 413.8,870.5 416.3,870.2 418.8,870 421.3,869.8 423.8,869.5 426.3,869.3 428.8,869.1 431.3,868.9 433.8,868.6 436.3,868.4 438.7,868.2 441.2,868 443.7,867.8 446.2,867.6 448.7,867.4 451.2,867.2 453.7,867 456.2,866.8 458.7,866.6 461.2,866.4 463.7,866.2 466.2,866 468.7,865.8 471.2,865.6 473.7,865.4 476.2,865.3 478.7,865.1 481.2,864.9 483.7,864.7 486.1,864.6 488.6,864.4 491.1,864.2 493.6,864.1 496.1,863.9 498.6,863.7 501.1,863.6 503.6,863.4 506.1,863.2 508.6,863.1 511.1,862.9 513.6,862.8 516.1,862.6 518.6,862.5 521.1,862.3 523.6,862.2 526.1,862 528.6,861.9 531.1,861.7 533.6,861.6 536.1,861.5 538.6,861.3 541.1,861.2 543.6,861 546.1,860.9 548.6,860.8 551.1,860.6 553.6,860.5 556.1,860.4 558.6,860.2 561.1,860.1 563.6,860 566.1,859.9 568.6,859.7 571.1,859.6 573.6,859.5 576.1,859.4 578.6,859.2 581.1,859.1 583.6,859 586.1,858.9 588.6,858.8 591.1,858.6 593.6,858.5 596.1,858.4 598.6,858.3 601.1,858.2 603.6,858.1 606.1,858 608.6,857.9 611.1,857.8 613.6,857.6 616.1,857.5 618.6,857.4 621.1,857.3 623.6,857.2 626.1,857.1 628.6,857 631.1,856.9 633.6,856.8"/>
<polyline fill="none" stroke="none" marker-start="url(#b4)" marker-mid="url(#b4)" marker-end="url(#b4)" points="101,1173.5 101.4,1118.1 102.3,1070.9 102.3,1054.7 103.7,1041.4 106.1,1029.7 106.7,1021.5 107.2,1014.3 107.7,1008.1 108.3,1002.5 108.8,997.5 109.3,993 109.9,988.9 110.4,985 110.9,981.4 111.5,978 112,974.8 112.5,971.7 113,968.8 113.6,965.9 114.1,963.2 114.6,960.5 115.2,957.9 115.7,955.4 116.2,952.9 116.8,950.5 117.3,948.2 117.8,945.9 118.4,943.6 118.9,941.3 119.4,939.2 120,937 120.5,934.9 121,932.8 121.6,930.7 122.1,928.7 122.6,926.7 123.2,924.8 123.7,922.9 124.2,921 124.8,919.1 125.3,917.3 125.8,915.5 126.4,913.7 126.9,911.9 127.4,910.2 128,908.5 128.5,906.8 129,905.2 129.6,903.5 130.1,901.9 130.6,900.3 131.2,898.8 131.7,897.2 132.2,895.7 132.8,894.2 133.3,892.8 133.8,891.3 134.4,889.9 134.9,888.5 135.4,887.1 135.9,885.7 136.5,884.4 137,883.1 137.5,881.8 138.6,879.2 139.7,876.7 140.7,874.3 141.8,872 142.9,869.7 143.9,867.5 145,865.3 146.1,863.2 147.1,861.2 148.2,859.2 149.3,857.3 150.3,855.4 151.4,853.6 152.5,851.8 153.5,850.1 154.6,848.4 155.7,846.7 156.7,845.1 157.8,843.6 158.8,842.1 159.9,840.6 161,839.1 162,837.7 163.1,836.4 164.2,835 165.2,833.7 166.3,832.5 167.4,831.2 168.4,830 169.5,828.8 170.6,827.7 171.6,826.6 172.7,825.5 173.8,824.4 174.8,823.4 175.9,822.3 177,821.3 178,820.4 179.1,819.4 180.2,818.5 181.2,817.6 182.8,816.2 184.4,815 186,813.7 187.6,812.5 189.2,811.3 190.8,810.2 192.4,809.1 194,808 195.6,807 197.2,806 198.8,805 200.4,804.1 202,803.2 203.6,802.3 205.2,801.4 206.8,800.6 208.4,799.7 210,798.9 211.6,798.1 213.2,797.4 214.8,796.6 216.4,795.9 218,795.2 219.6,794.5 221.2,793.8 222.8,793.2 224.4,792.5 226,791.9 227.5,791.3 229.1,790.7 230.7,790.1 232.3,789.5 233.9,789 235.5,788.4 237.1,787.9 238.7,787.3 240.3,786.8 241.9,786.3 243.5,785.8 245.1,785.3 246.7,784.8 248.3,784.4 249.9,783.9 251.5,783.4 253.1,783 254.7,782.6 256.3,782.1 257.9,781.7 259.5,781.3 261.1,780.9 262.7,780.5 264.3,780.1 265.9,779.7 267.5,779.3 269.1,778.9 270.7,778.5 272.3,778.2 273.9,777.8 275.5,777.5 277.1,777.1 278.7,776.8 280.3,776.4 281.9,776.1 283.5,775.8 285.1,775.4 286.7,775.1 288.3,774.8 289.9,774.5 291.5,774.2 293.1,773.9 294.7,773.6 296.2,773.3 297.8,773 299.4,772.7 301,772.4 302.6,772.1 304.2,771.9 305.8,771.6 307.4,771.3 309,771 310.6,770.8 312.2,770.5 313.8,770.3 315.4,770 317,769.8 318.6,769.5 320.2,769.3 321.8,769 323.4,768.8 325,768.6 326.6,768.3 328.2,768.1 329.8,767.9 331.4,767.7 333,767.4 334.6,767.2 336.2,767 337.8,766.8 339.4,766.6 341,766.4 342.6,766.2 344.2,766 345.8,765.8 347.4,765.6 349,765.4 350.6,765.2 352.2,765 353.8,764.8 355.4,764.6 357,764.4 358.6,764.2 360.2,764.1 361.8,763.9 363.4,763.7 364.9,763.5 366.5,763.4 368.1,763.2 369.7,763 371.3,762.9 372.9,762.7 374.5,762.5 376.1,762.4 377.7,762.2 379.3,762.1 380.9,761.9 382.5,761.7 384.1,761.6 385.7,761.4 387.3,761.3 388.9,761.1 390.5,761 392.1,760.9 393.7,760.7 395.3,760.6 396.9,760.4 398.5,760.3 400.1,760.2 401.7,760 403.3,759.9 404.9,759.8 406.5,759.6 408.1,759.5 409.7,759.4 411.3,759.3 412.9,759.1 414.5,759 416.1,758.9 417.7,758.8 419.3,758.7 420.9,758.5 422.5,758.4 424.1,758.3 425.7,758.2 427.3,758.1 428.9,758 430.5,757.9 432.1,757.8 433.6,757.7 435.2,757.5 436.8,757.4 438.4,757.3 440,757.2 441.6,757.1 443.2,757 444.8,756.9 446.4,756.8 448,756.7 449.6,756.7 451.2,756.6 452.8,756.5 454.4,756.4 456,756.3 457.6,756.2 459.2,756.1 460.8,756 462.4,755.9 464,755.8 465.6,755.8 467.2,755.7 468.8,755.6 470.4,755.5 472,755.4 473.6,755.3 475.2,755.3 476.8,755.2 478.4,755.1 480,755 481.6,755 483.2,754.9 484.8,754.8 486.4,754.7 488,754.7 489.6,754.6 491.2,754.5 492.8,754.4 494.4,754.4 496,754.3 497.6,754.2 499.2,754.2 500.8,754.1 502.4,754 503.9,754 505.5,753.9 507.1,753.8 508.7,753.8 510.3,753.7 511.9,753.7 513.5,753.6 515.1,753.5 516.7,753.5 518.3,753.4 519.9,753.4 521.5,753.3 523.1,753.2 524.7,753.2 526.3,753.1 527.9,753.1 529.5,753 531.1,753 532.7,752.9 534.3,752.9 535.9,752.8 537.5,752.8 539.1,752.7 540.7,752.7 542.3,752.6 543.9,752.6 545.5,752.5 547.1,752.5 548.7,752.4 550.3,752.4 551.9,752.3 553.5,752.3 555.1,752.2 556.7,752.2 558.3,752.1 559.9,752.1 561.5,752 563.1,752 564.7,752 566.3,751.9 567.9,751.9 569.5,751.8 571.1,751.8 572.6,751.8 574.2,751.7 575.8,751.7 577.4,751.6 579,751.6 580.6,751.6 582.2,751.5 583.8,751.5 585.4,751.4 587,751.4 588.6,751.4 590.2,751.3 591.8,751.3 593.4,751.3 595,751.2 596.6,751.2 598.2,751.2 599.8,751.1 601.4,751.1 603,751.1 604.6,751 606.2,751 607.8,751 609.4,750.9 611,750.9 612.6,750.9 614.2,750.8 615.8,750.8 617.4,750.8 619,750.8 620.6,750.7 622.2,750.7 623.8,750.7 625.4,750.6 627,750.6 628.6,750.6 630.2,750.6 631.8,750.5 633.4,750.5 633.6,750.5"/>
<polyline fill="none" stroke="#fcb0f8" stroke-width="2.6" stroke-linejoin="round" stroke-linecap="round" points="102.4,1179 102.4,1176.5 102.4,1174 102.4,1171.5 102.4,1169 102.4,1166.5 102.4,1164 102.4,1161.5 102.4,1159 102.4,1156.5 102.4,1154 102.4,1151.5 102.4,1149 102.4,1146.5 102.4,1144 102.4,1141.5 102.4,1139 102.6,1136.7 102.7,1134.2 102.7,1131.7 102.8,1129.2 102.8,1126.7 102.9,1124.2 102.9,1121.7 103,1119.2 103,1116.7 103.1,1114.2 103.1,1111.7 103.2,1109.2 103.3,1106.7 103.3,1104.2 103.4,1101.7 103.4,1099.2 103.5,1096.7 103.6,1094.2 103.6,1091.7 103.7,1089.2 103.8,1086.7 103.9,1084.2 103.9,1081.7 104,1079.2 104.1,1076.7 104.2,1074.2 104.2,1071.7 104.3,1069.2 104.4,1066.7 104.5,1064.2 104.6,1061.7 104.7,1059.2 104.8,1056.7 104.9,1054.2 105,1051.7 105.1,1049.2 105.2,1046.7 105.3,1044.2 105.5,1041.7 105.6,1039.2 105.7,1036.7 105.9,1034.2 106,1031.7 106.2,1029.2 106.3,1026.7 106.5,1024.2 106.6,1021.7 106.8,1019.2 107,1016.7 107.2,1014.2 107.4,1011.7 107.6,1009.3 107.8,1006.8 108.1,1004.3 108.3,1001.8 108.6,999.3 108.9,996.8 109.2,994.3 109.5,991.8 109.8,989.4 110.1,986.9 110.5,984.4 110.8,981.9 111.2,979.5 111.6,977 112,974.5 112.5,972.1 112.9,969.6 113.4,967.1 113.8,964.7 114.3,962.2 114.8,959.8 115.3,957.3 115.8,954.9 116.4,952.4 116.9,950 117.5,947.6 118,945.1 118.6,942.7 119.2,940.2 119.8,937.8 120.4,935.4 121,933 121.6,930.5 122.3,928.1 122.9,925.7 123.6,923.3 124.3,920.9 125,918.5 125.6,916.1 126.4,913.7 127.1,911.3 127.8,908.9 128.6,906.5 129.4,904.1 130.1,901.8 130.9,899.4 131.8,897 132.6,894.7 133.5,892.3 134.3,890 135.2,887.6 136.1,885.3 137.1,883 138,880.7 139,878.4 140,876.1 141,873.8 142,871.5 143.1,869.3 144.2,867 145.3,864.8 146.4,862.5 147.6,860.3 148.8,858.1 150,855.9 151.3,853.8 152.6,851.6 153.9,849.5 155.2,847.4 156.6,845.3 158,843.3 159.5,841.2 160.9,839.2 162.5,837.2 164,835.2 165.6,833.3 167.2,831.4 168.9,829.5 170.6,827.7 172.3,825.9 174.1,824.1 175.9,822.4 177.7,820.7 179.6,819 181.5,817.4 183.4,815.8 185.3,814.2 187.3,812.7 189.3,811.2 191.4,809.8 193.5,808.4 195.6,807 197.7,805.7 199.8,804.4 202,803.2 204.2,801.9 206.4,800.8 208.6,799.6 210.8,798.5 213.1,797.4 215.4,796.4 217.7,795.3 220,794.4 222.3,793.4 224.6,792.5 226.9,791.5 229.2,790.7 231.6,789.8 234,789 236.3,788.2 238.7,787.4 241.1,786.6 243.5,785.8 245.8,785.1 248.2,784.4 250.6,783.7 253.1,783 255.5,782.4 257.9,781.7 260.3,781.1 262.7,780.5 265.2,779.9 267.6,779.3 270,778.7 272.5,778.1 274.9,777.6 277.3,777 279.8,776.5 282.2,776 284.7,775.5 287.1,775 289.6,774.5 292.1,774.1 294.5,773.6 297,773.1 299.4,772.7 301.9,772.3 304.4,771.8 306.8,771.4 309.3,771 311.8,770.6 314.2,770.2 316.7,769.8 319.2,769.4 321.6,769.1 324.1,768.7 326.6,768.3 329.1,768 331.6,767.6 334,767.3 336.5,767 339,766.6 341.5,766.3 343.9,766 346.4,765.7 348.9,765.4 351.4,765.1 353.9,764.8 356.4,764.5 358.9,764.2 361.3,763.9 363.8,763.7 366.3,763.4 368.8,763.1 371.3,762.9 373.8,762.6 376.3,762.4 378.8,762.1 381.2,761.9 383.7,761.6 386.2,761.4 388.7,761.2 391.2,760.9 393.7,760.7 396.2,760.5 398.7,760.3 401.2,760.1 403.7,759.9 406.2,759.7 408.7,759.5 411.1,759.3 413.6,759.1 416.1,758.9 418.6,758.7 421.1,758.5 423.6,758.3 426.1,758.2 428.6,758 431.1,757.8 433.6,757.7 436.1,757.5 438.6,757.3 441.1,757.2 443.6,757 446.1,756.9 448.6,756.7 451.1,756.6 453.6,756.4 456.1,756.3 458.6,756.1 461.1,756 463.6,755.9 466.1,755.7 468.6,755.6 471.1,755.5 473.6,755.3 476.1,755.2 478.5,755.1 481,755 483.5,754.9 486,754.7 488.5,754.6 491,754.5 493.5,754.4 496,754.3 498.5,754.2 501,754.1 503.5,754 506,753.9 508.5,753.8 511,753.7 513.5,753.6 516,753.5 518.5,753.4 521,753.3 523.5,753.2 526,753.1 528.5,753 531,753 533.5,752.9 536,752.8 538.5,752.7 541,752.6 543.5,752.6 546,752.5 548.5,752.4 551,752.3 553.5,752.3 556,752.2 558.5,752.1 561,752.1 563.5,752 566,751.9 568.5,751.9 571,751.8 573.5,751.7 576,751.7 578.5,751.6 581,751.5 583.5,751.5 586,751.4 588.5,751.4 591,751.3 593.5,751.3 596,751.2 598.5,751.2 601,751.1 603.5,751.1 606,751 608.6,751 611.1,750.9 613.6,750.9 616.1,750.8 618.6,750.8 621.1,750.7 623.6,750.7 626.1,750.6 628.6,750.6 631.1,750.5 633.6,750.5"/>
</g>
<text x="67.5" y="492.2" font-size="34" text-anchor="end">1</text>
<text x="67.5" y="396.4" font-size="34" text-anchor="end">2</text>
<text x="67.5" y="300.6" font-size="34" text-anchor="end">3</text>
<text x="67.5" y="204.8" font-size="34" text-anchor="end">4</text>
<text x="67.5" y="109" font-size="34" text-anchor="end">5</text>
<text x="67.5" y="13.2" font-size="34" text-anchor="end">6</text>
<text x="86" y="517" font-size="34" text-anchor="middle">0</text>
<text x="178" y="517" font-size="34" text-anchor="middle">10</text>
<text x="270" y="517" font-size="34" text-anchor="middle">20</text>
<text x="362" y="517" font-size="34" text-anchor="middle">30</text>
<text x="454" y="517" font-size="34" text-anchor="middle">40</text>
<text x="546" y="517" font-size="34" text-anchor="middle">50</text>
<text x="638" y="517" font-size="34" text-anchor="middle">60</text>
<text x="371" y="556.5" font-size="41" text-anchor="middle">Time (min)</text>
<text transform="translate(36.6 242) rotate(-90)" font-size="41" text-anchor="middle"><tspan font-style="italic">J</tspan> (MPa<tspan font-size="26" dy="-16.5">&#8722;1</tspan><tspan dy="16.5">)</tspan></text>
<text x="89" y="48.6" font-size="41">(a)</text>
<text x="135" y="426.8" font-size="26">30°C</text>
<path fill="#008080" d="M376.1 314h11v11h-11z"/>
<text x="416" y="327.6" font-size="25.6">1MPa</text>
<path stroke="#fac896" stroke-width="2.6" stroke-linecap="round" d="M353 349.9H409.5"/>
<text x="416" y="358.5" font-size="25.6">GFK</text>
<path fill="#7f7f00" d="M375.4 381.4a6 6 0 1 0 12 0a6 6 0 1 0 -12 0z"/>
<text x="416" y="390" font-size="25.6">2MPa</text>
<path stroke="#c4acd6" stroke-width="2.6" stroke-linecap="round" d="M353 412.5H409.5"/>
<text x="416" y="421" font-size="25.6">GFK</text>
<path fill="#ec4640" d="M534.2 274.9L541.2 287.1L527.2 287.1z"/>
<text x="568" y="291" font-size="25.6">3MPa</text>
<path stroke="#96b4ee" stroke-width="2.6" stroke-linecap="round" d="M506 313.2H562"/>
<text x="568" y="322.3" font-size="25.6">GFK</text>
<path fill="#1e6ee0" d="M534.2 352.6L541.2 340.4L527.2 340.4z"/>
<text x="568" y="353.3" font-size="25.6">4MPa</text>
<path stroke="#b4e2e8" stroke-width="2.6" stroke-linecap="round" d="M506 375.7H562"/>
<text x="568" y="384" font-size="25.6">GFK</text>
<path fill="#ff0a86" d="M534.2 400L541.2 407L534.2 414L527.2 407z"/>
<text x="568" y="415" font-size="25.6">5MPa</text>
<path stroke="#a8a882" stroke-width="2.6" stroke-linecap="round" d="M506 438.2H562"/>
<text x="568" y="446.5" font-size="25.6">GFK</text>
<text x="83.6" y="1187.8" font-size="34" text-anchor="end">0</text>
<text x="83.6" y="1099.4" font-size="34" text-anchor="end">3</text>
<text x="83.6" y="1011" font-size="34" text-anchor="end">6</text>
<text x="83.6" y="922.6" font-size="34" text-anchor="end">9</text>
<text x="83.6" y="834.2" font-size="34" text-anchor="end">12</text>
<text x="83.6" y="745.8" font-size="34" text-anchor="end">15</text>
<text x="101" y="1212" font-size="34" text-anchor="middle">0</text>
<text x="189.8" y="1212" font-size="34" text-anchor="middle">10</text>
<text x="278.5" y="1212" font-size="34" text-anchor="middle">20</text>
<text x="367.3" y="1212" font-size="34" text-anchor="middle">30</text>
<text x="456" y="1212" font-size="34" text-anchor="middle">40</text>
<text x="544.8" y="1212" font-size="34" text-anchor="middle">50</text>
<text x="633.6" y="1212" font-size="34" text-anchor="middle">60</text>
<text x="385.5" y="1248.5" font-size="40" text-anchor="middle">Time (min)</text>
<text transform="translate(39 925.5) rotate(-90)" font-size="41" text-anchor="middle"><tspan font-style="italic">J</tspan> (MPa<tspan font-size="26" dy="-16.5">&#8722;1</tspan><tspan dy="16.5">)</tspan></text>
<text x="107.5" y="755" font-size="41">(b)</text>
<path stroke="#000" stroke-width="2.6" d="M92.5 676.5L108 692M92.5 692L108 676.5"/><text x="115.5" y="695" font-size="40.5" textLength="37.5" lengthAdjust="spacingAndGlyphs">10</text><text x="154" y="677.5" font-size="26.5">&#8722;3</text>
<text x="157" y="1133.9" font-size="25.4">3MPa</text>
<path fill="#ff0000" d="M311.6 1057.2h10.8v10.8h-10.8z"/>
<text x="350" y="1070.7" font-size="25.6">30°C</text>
<path stroke="#aad8e6" stroke-width="2.6" stroke-linecap="round" d="M290 1092.6H343"/>
<text x="350" y="1101.3" font-size="25.6">GFK</text>
<path fill="#ff8000" d="M310.5 1123.8a6 6 0 1 0 12 0a6 6 0 1 0 -12 0z"/>
<text x="350" y="1131.4" font-size="25.6">33°C</text>
<path stroke="#98b4e6" stroke-width="2.6" stroke-linecap="round" d="M290 1152.7H343"/>
<text x="350" y="1161.4" font-size="25.6">GFK</text>
<path fill="#0000ff" d="M441.3 1055.2L448 1066.8L434.6 1066.8z"/>
<text x="475" y="1069.6" font-size="25.6">37°C</text>
<path stroke="#98cc98" stroke-width="2.6" stroke-linecap="round" d="M414 1092.6H468"/>
<text x="475" y="1101.2" font-size="25.6">GFK</text>
<path fill="#007f00" d="M441.2 1129.6L447.9 1118L434.5 1118z"/>
<text x="475" y="1131" font-size="25.6">40°C</text>
<path stroke="#f4c29a" stroke-width="2.6" stroke-linecap="round" d="M414 1152.7H468"/>
<text x="475" y="1161.4" font-size="25.6">GFK</text>
<path fill="#8000ff" d="M561.3 1053.2L567.8 1059.7L561.3 1066.2L554.8 1059.7z"/>
<text x="595.4" y="1068.5" font-size="25.6">50°C</text>
<path stroke="#f4aaee" stroke-width="2.6" stroke-linecap="round" d="M534.6 1089.7H588"/>
<text x="595.4" y="1098.8" font-size="25.6">GFK</text>
</svg></body></html>
